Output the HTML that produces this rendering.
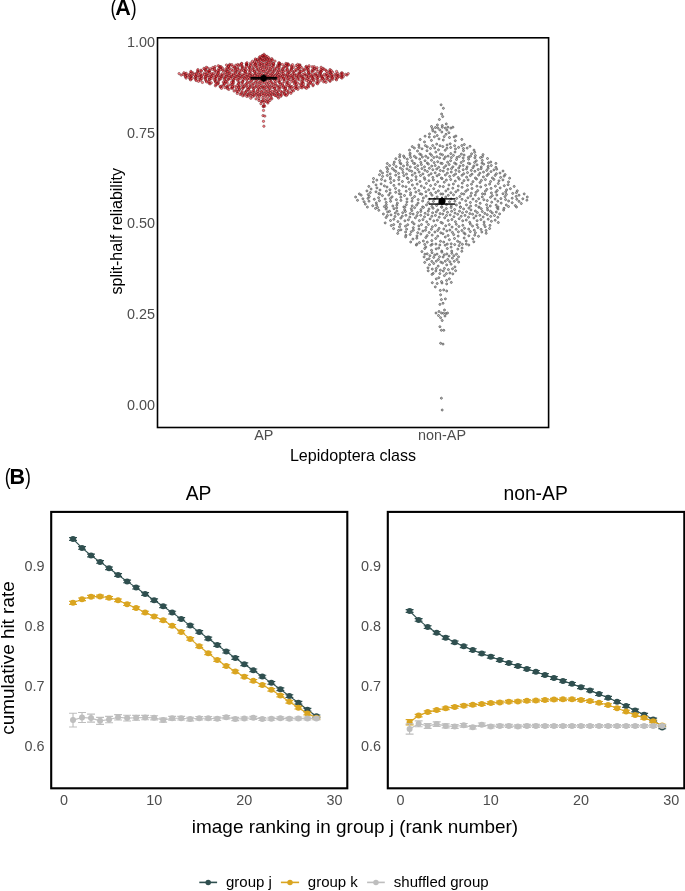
<!DOCTYPE html>
<html><head><meta charset="utf-8"><title>figure</title>
<style>html,body{margin:0;padding:0;background:#fff;}body{width:685px;height:891px;overflow:hidden;font-family:"Liberation Sans", sans-serif;}svg{display:block;will-change:transform;}</style>
</head><body>
<svg width="685" height="891" viewBox="0 0 685 891" font-family='"Liberation Sans", sans-serif'><g fill="#ff2030" stroke="#3a0000" stroke-width="0.55" fill-opacity="0.55" stroke-opacity="0.7"><circle cx="279.4" cy="64.2" r="1.2"/><circle cx="215.1" cy="70.8" r="1.2"/><circle cx="254.9" cy="74.0" r="1.2"/><circle cx="250.2" cy="70.9" r="1.2"/><circle cx="271.8" cy="58.7" r="1.2"/><circle cx="237.8" cy="64.5" r="1.2"/><circle cx="265.3" cy="85.8" r="1.2"/><circle cx="243.9" cy="70.5" r="1.2"/><circle cx="285.0" cy="94.9" r="1.2"/><circle cx="343.3" cy="76.6" r="1.2"/><circle cx="257.0" cy="70.1" r="1.2"/><circle cx="256.2" cy="92.8" r="1.2"/><circle cx="277.8" cy="65.2" r="1.2"/><circle cx="226.5" cy="65.0" r="1.2"/><circle cx="269.9" cy="70.2" r="1.2"/><circle cx="321.1" cy="74.7" r="1.2"/><circle cx="301.7" cy="81.4" r="1.2"/><circle cx="215.4" cy="85.8" r="1.2"/><circle cx="293.0" cy="80.3" r="1.2"/><circle cx="259.8" cy="94.9" r="1.2"/><circle cx="280.4" cy="75.9" r="1.2"/><circle cx="273.5" cy="77.7" r="1.2"/><circle cx="263.1" cy="82.3" r="1.2"/><circle cx="285.9" cy="75.2" r="1.2"/><circle cx="328.9" cy="76.1" r="1.2"/><circle cx="256.1" cy="66.8" r="1.2"/><circle cx="224.4" cy="79.8" r="1.2"/><circle cx="215.1" cy="66.6" r="1.2"/><circle cx="239.3" cy="89.7" r="1.2"/><circle cx="239.2" cy="75.9" r="1.2"/><circle cx="322.6" cy="77.9" r="1.2"/><circle cx="215.9" cy="84.6" r="1.2"/><circle cx="321.5" cy="75.9" r="1.2"/><circle cx="315.7" cy="74.8" r="1.2"/><circle cx="328.2" cy="77.4" r="1.2"/><circle cx="321.1" cy="67.3" r="1.2"/><circle cx="228.8" cy="69.5" r="1.2"/><circle cx="261.6" cy="73.5" r="1.2"/><circle cx="335.1" cy="74.2" r="1.2"/><circle cx="226.6" cy="76.1" r="1.2"/><circle cx="319.5" cy="73.9" r="1.2"/><circle cx="278.7" cy="81.0" r="1.2"/><circle cx="280.5" cy="79.8" r="1.2"/><circle cx="250.9" cy="95.2" r="1.2"/><circle cx="265.6" cy="100.6" r="1.2"/><circle cx="321.0" cy="80.2" r="1.2"/><circle cx="255.4" cy="60.0" r="1.2"/><circle cx="246.8" cy="96.4" r="1.2"/><circle cx="292.4" cy="74.1" r="1.2"/><circle cx="218.3" cy="82.6" r="1.2"/><circle cx="279.2" cy="69.4" r="1.2"/><circle cx="228.7" cy="75.6" r="1.2"/><circle cx="205.5" cy="79.7" r="1.2"/><circle cx="209.3" cy="79.1" r="1.2"/><circle cx="262.4" cy="76.6" r="1.2"/><circle cx="236.9" cy="76.2" r="1.2"/><circle cx="297.7" cy="66.7" r="1.2"/><circle cx="254.5" cy="78.6" r="1.2"/><circle cx="201.1" cy="77.0" r="1.2"/><circle cx="253.7" cy="83.5" r="1.2"/><circle cx="304.5" cy="70.3" r="1.2"/><circle cx="244.1" cy="73.7" r="1.2"/><circle cx="277.7" cy="85.9" r="1.2"/><circle cx="257.7" cy="60.5" r="1.2"/><circle cx="246.4" cy="90.7" r="1.2"/><circle cx="313.0" cy="85.7" r="1.2"/><circle cx="278.9" cy="74.6" r="1.2"/><circle cx="263.3" cy="106.6" r="1.2"/><circle cx="273.6" cy="74.8" r="1.2"/><circle cx="199.9" cy="74.9" r="1.2"/><circle cx="211.3" cy="82.8" r="1.2"/><circle cx="208.1" cy="75.7" r="1.2"/><circle cx="242.2" cy="67.6" r="1.2"/><circle cx="274.1" cy="92.4" r="1.2"/><circle cx="190.9" cy="77.0" r="1.2"/><circle cx="185.2" cy="74.0" r="1.2"/><circle cx="239.0" cy="72.6" r="1.2"/><circle cx="246.9" cy="64.5" r="1.2"/><circle cx="263.4" cy="106.2" r="1.2"/><circle cx="288.0" cy="76.1" r="1.2"/><circle cx="249.3" cy="93.1" r="1.2"/><circle cx="185.5" cy="76.0" r="1.2"/><circle cx="318.6" cy="76.2" r="1.2"/><circle cx="210.2" cy="68.8" r="1.2"/><circle cx="302.6" cy="80.0" r="1.2"/><circle cx="321.2" cy="77.1" r="1.2"/><circle cx="247.3" cy="82.2" r="1.2"/><circle cx="281.5" cy="71.3" r="1.2"/><circle cx="281.7" cy="74.2" r="1.2"/><circle cx="261.8" cy="65.8" r="1.2"/><circle cx="263.3" cy="93.2" r="1.2"/><circle cx="274.6" cy="88.0" r="1.2"/><circle cx="247.1" cy="94.7" r="1.2"/><circle cx="215.9" cy="78.5" r="1.2"/><circle cx="219.7" cy="66.5" r="1.2"/><circle cx="277.2" cy="93.2" r="1.2"/><circle cx="282.6" cy="69.8" r="1.2"/><circle cx="252.2" cy="76.4" r="1.2"/><circle cx="268.3" cy="83.2" r="1.2"/><circle cx="299.5" cy="69.7" r="1.2"/><circle cx="239.0" cy="77.6" r="1.2"/><circle cx="252.5" cy="96.6" r="1.2"/><circle cx="279.5" cy="64.9" r="1.2"/><circle cx="273.8" cy="64.6" r="1.2"/><circle cx="234.1" cy="77.7" r="1.2"/><circle cx="223.7" cy="70.9" r="1.2"/><circle cx="257.7" cy="74.8" r="1.2"/><circle cx="317.1" cy="67.8" r="1.2"/><circle cx="280.8" cy="96.3" r="1.2"/><circle cx="226.4" cy="70.6" r="1.2"/><circle cx="324.4" cy="74.3" r="1.2"/><circle cx="194.7" cy="77.7" r="1.2"/><circle cx="274.2" cy="70.1" r="1.2"/><circle cx="272.6" cy="76.3" r="1.2"/><circle cx="279.9" cy="63.6" r="1.2"/><circle cx="229.8" cy="64.4" r="1.2"/><circle cx="283.2" cy="87.5" r="1.2"/><circle cx="269.4" cy="88.7" r="1.2"/><circle cx="331.9" cy="75.8" r="1.2"/><circle cx="308.6" cy="86.9" r="1.2"/><circle cx="196.0" cy="76.2" r="1.2"/><circle cx="263.2" cy="56.1" r="1.2"/><circle cx="233.1" cy="80.5" r="1.2"/><circle cx="248.8" cy="88.7" r="1.2"/><circle cx="221.5" cy="88.3" r="1.2"/><circle cx="307.9" cy="84.1" r="1.2"/><circle cx="286.4" cy="76.8" r="1.2"/><circle cx="246.7" cy="64.2" r="1.2"/><circle cx="300.5" cy="84.2" r="1.2"/><circle cx="297.4" cy="86.7" r="1.2"/><circle cx="277.2" cy="66.9" r="1.2"/><circle cx="283.3" cy="77.9" r="1.2"/><circle cx="305.4" cy="87.5" r="1.2"/><circle cx="305.1" cy="74.9" r="1.2"/><circle cx="245.7" cy="69.5" r="1.2"/><circle cx="232.6" cy="88.5" r="1.2"/><circle cx="218.0" cy="83.6" r="1.2"/><circle cx="253.5" cy="66.2" r="1.2"/><circle cx="268.9" cy="91.4" r="1.2"/><circle cx="249.6" cy="74.2" r="1.2"/><circle cx="257.1" cy="83.0" r="1.2"/><circle cx="325.8" cy="70.1" r="1.2"/><circle cx="248.1" cy="94.1" r="1.2"/><circle cx="242.5" cy="66.6" r="1.2"/><circle cx="267.5" cy="76.1" r="1.2"/><circle cx="234.9" cy="68.5" r="1.2"/><circle cx="249.3" cy="82.7" r="1.2"/><circle cx="264.5" cy="67.3" r="1.2"/><circle cx="267.0" cy="91.8" r="1.2"/><circle cx="311.6" cy="80.3" r="1.2"/><circle cx="291.2" cy="69.1" r="1.2"/><circle cx="315.8" cy="73.4" r="1.2"/><circle cx="257.2" cy="59.5" r="1.2"/><circle cx="335.9" cy="78.9" r="1.2"/><circle cx="314.6" cy="68.7" r="1.2"/><circle cx="268.3" cy="68.0" r="1.2"/><circle cx="259.6" cy="65.0" r="1.2"/><circle cx="303.0" cy="82.0" r="1.2"/><circle cx="255.2" cy="82.1" r="1.2"/><circle cx="307.9" cy="71.1" r="1.2"/><circle cx="220.4" cy="67.5" r="1.2"/><circle cx="218.3" cy="65.8" r="1.2"/><circle cx="189.2" cy="74.8" r="1.2"/><circle cx="207.5" cy="67.9" r="1.2"/><circle cx="239.0" cy="74.2" r="1.2"/><circle cx="262.2" cy="90.8" r="1.2"/><circle cx="257.5" cy="96.6" r="1.2"/><circle cx="302.9" cy="76.6" r="1.2"/><circle cx="190.0" cy="78.9" r="1.2"/><circle cx="264.6" cy="106.3" r="1.2"/><circle cx="290.1" cy="79.5" r="1.2"/><circle cx="213.4" cy="73.2" r="1.2"/><circle cx="267.7" cy="96.4" r="1.2"/><circle cx="244.3" cy="86.4" r="1.2"/><circle cx="345.5" cy="74.4" r="1.2"/><circle cx="268.2" cy="101.4" r="1.2"/><circle cx="247.1" cy="76.1" r="1.2"/><circle cx="302.0" cy="83.0" r="1.2"/><circle cx="198.0" cy="75.8" r="1.2"/><circle cx="274.4" cy="94.2" r="1.2"/><circle cx="261.3" cy="94.3" r="1.2"/><circle cx="291.8" cy="68.3" r="1.2"/><circle cx="285.4" cy="70.8" r="1.2"/><circle cx="278.9" cy="94.6" r="1.2"/><circle cx="287.3" cy="70.3" r="1.2"/><circle cx="272.5" cy="94.7" r="1.2"/><circle cx="266.0" cy="60.1" r="1.2"/><circle cx="250.3" cy="64.7" r="1.2"/><circle cx="293.6" cy="67.4" r="1.2"/><circle cx="287.9" cy="63.8" r="1.2"/><circle cx="288.1" cy="80.7" r="1.2"/><circle cx="279.1" cy="66.2" r="1.2"/><circle cx="249.5" cy="75.8" r="1.2"/><circle cx="296.1" cy="88.1" r="1.2"/><circle cx="263.7" cy="78.0" r="1.2"/><circle cx="208.7" cy="71.5" r="1.2"/><circle cx="196.4" cy="73.4" r="1.2"/><circle cx="261.3" cy="91.6" r="1.2"/><circle cx="264.9" cy="57.7" r="1.2"/><circle cx="250.8" cy="73.4" r="1.2"/><circle cx="311.2" cy="83.6" r="1.2"/><circle cx="259.4" cy="84.4" r="1.2"/><circle cx="284.0" cy="91.6" r="1.2"/><circle cx="259.4" cy="89.2" r="1.2"/><circle cx="270.7" cy="69.2" r="1.2"/><circle cx="261.2" cy="101.6" r="1.2"/><circle cx="310.5" cy="82.2" r="1.2"/><circle cx="258.8" cy="77.7" r="1.2"/><circle cx="222.6" cy="70.1" r="1.2"/><circle cx="259.2" cy="72.7" r="1.2"/><circle cx="235.3" cy="67.4" r="1.2"/><circle cx="231.2" cy="88.0" r="1.2"/><circle cx="330.5" cy="73.7" r="1.2"/><circle cx="264.4" cy="61.2" r="1.2"/><circle cx="287.0" cy="83.0" r="1.2"/><circle cx="233.7" cy="75.3" r="1.2"/><circle cx="267.9" cy="93.9" r="1.2"/><circle cx="264.3" cy="71.4" r="1.2"/><circle cx="252.4" cy="79.5" r="1.2"/><circle cx="288.3" cy="92.6" r="1.2"/><circle cx="226.9" cy="71.4" r="1.2"/><circle cx="256.2" cy="76.9" r="1.2"/><circle cx="234.1" cy="91.0" r="1.2"/><circle cx="307.4" cy="78.7" r="1.2"/><circle cx="291.4" cy="91.7" r="1.2"/><circle cx="341.9" cy="78.1" r="1.2"/><circle cx="288.0" cy="91.4" r="1.2"/><circle cx="257.5" cy="91.3" r="1.2"/><circle cx="212.3" cy="69.4" r="1.2"/><circle cx="198.5" cy="81.3" r="1.2"/><circle cx="253.0" cy="68.1" r="1.2"/><circle cx="300.3" cy="87.3" r="1.2"/><circle cx="252.5" cy="74.9" r="1.2"/><circle cx="326.1" cy="74.9" r="1.2"/><circle cx="299.2" cy="73.2" r="1.2"/><circle cx="239.2" cy="82.0" r="1.2"/><circle cx="242.9" cy="84.8" r="1.2"/><circle cx="267.1" cy="58.3" r="1.2"/><circle cx="252.6" cy="70.4" r="1.2"/><circle cx="218.7" cy="75.9" r="1.2"/><circle cx="275.4" cy="75.3" r="1.2"/><circle cx="259.9" cy="59.0" r="1.2"/><circle cx="314.4" cy="68.1" r="1.2"/><circle cx="245.7" cy="84.2" r="1.2"/><circle cx="249.9" cy="85.2" r="1.2"/><circle cx="320.3" cy="72.6" r="1.2"/><circle cx="228.8" cy="89.4" r="1.2"/><circle cx="320.7" cy="70.9" r="1.2"/><circle cx="251.2" cy="77.0" r="1.2"/><circle cx="220.4" cy="86.4" r="1.2"/><circle cx="201.4" cy="71.0" r="1.2"/><circle cx="202.4" cy="82.4" r="1.2"/><circle cx="329.8" cy="71.0" r="1.2"/><circle cx="281.8" cy="92.0" r="1.2"/><circle cx="259.0" cy="81.9" r="1.2"/><circle cx="260.6" cy="68.3" r="1.2"/><circle cx="220.3" cy="86.9" r="1.2"/><circle cx="204.8" cy="77.9" r="1.2"/><circle cx="336.5" cy="79.9" r="1.2"/><circle cx="333.6" cy="76.4" r="1.2"/><circle cx="273.2" cy="84.1" r="1.2"/><circle cx="206.1" cy="76.1" r="1.2"/><circle cx="287.4" cy="94.3" r="1.2"/><circle cx="212.9" cy="75.4" r="1.2"/><circle cx="266.5" cy="79.0" r="1.2"/><circle cx="311.5" cy="75.7" r="1.2"/><circle cx="302.4" cy="85.9" r="1.2"/><circle cx="241.4" cy="70.9" r="1.2"/><circle cx="271.8" cy="98.8" r="1.2"/><circle cx="250.5" cy="86.7" r="1.2"/><circle cx="280.6" cy="91.2" r="1.2"/><circle cx="239.9" cy="73.5" r="1.2"/><circle cx="258.9" cy="100.5" r="1.2"/><circle cx="331.8" cy="74.6" r="1.2"/><circle cx="301.7" cy="67.7" r="1.2"/><circle cx="272.9" cy="65.4" r="1.2"/><circle cx="224.5" cy="78.0" r="1.2"/><circle cx="226.8" cy="86.6" r="1.2"/><circle cx="276.3" cy="76.8" r="1.2"/><circle cx="247.5" cy="79.1" r="1.2"/><circle cx="300.9" cy="76.0" r="1.2"/><circle cx="268.7" cy="57.8" r="1.2"/><circle cx="233.0" cy="81.4" r="1.2"/><circle cx="279.2" cy="62.8" r="1.2"/><circle cx="288.2" cy="78.7" r="1.2"/><circle cx="292.6" cy="89.9" r="1.2"/><circle cx="259.7" cy="92.5" r="1.2"/><circle cx="270.6" cy="64.0" r="1.2"/><circle cx="209.3" cy="71.3" r="1.2"/><circle cx="278.6" cy="77.4" r="1.2"/><circle cx="298.2" cy="77.7" r="1.2"/><circle cx="326.6" cy="71.3" r="1.2"/><circle cx="234.4" cy="67.1" r="1.2"/><circle cx="258.3" cy="61.5" r="1.2"/><circle cx="302.8" cy="78.0" r="1.2"/><circle cx="314.2" cy="66.6" r="1.2"/><circle cx="316.7" cy="69.8" r="1.2"/><circle cx="197.7" cy="71.8" r="1.2"/><circle cx="222.4" cy="73.6" r="1.2"/><circle cx="257.1" cy="79.4" r="1.2"/><circle cx="283.9" cy="80.0" r="1.2"/><circle cx="232.8" cy="66.5" r="1.2"/><circle cx="297.7" cy="83.2" r="1.2"/><circle cx="305.0" cy="73.5" r="1.2"/><circle cx="282.6" cy="83.5" r="1.2"/><circle cx="312.1" cy="66.8" r="1.2"/><circle cx="259.2" cy="86.3" r="1.2"/><circle cx="260.9" cy="103.7" r="1.2"/><circle cx="245.3" cy="71.3" r="1.2"/><circle cx="215.5" cy="74.8" r="1.2"/><circle cx="289.1" cy="72.3" r="1.2"/><circle cx="273.8" cy="71.9" r="1.2"/><circle cx="302.9" cy="74.3" r="1.2"/><circle cx="266.2" cy="94.4" r="1.2"/><circle cx="322.1" cy="70.4" r="1.2"/><circle cx="303.6" cy="83.8" r="1.2"/><circle cx="270.0" cy="66.6" r="1.2"/><circle cx="267.9" cy="103.0" r="1.2"/><circle cx="254.6" cy="75.4" r="1.2"/><circle cx="242.8" cy="95.9" r="1.2"/><circle cx="268.5" cy="99.0" r="1.2"/><circle cx="258.4" cy="69.1" r="1.2"/><circle cx="331.3" cy="77.0" r="1.2"/><circle cx="253.3" cy="94.5" r="1.2"/><circle cx="346.9" cy="75.1" r="1.2"/><circle cx="296.0" cy="84.8" r="1.2"/><circle cx="271.3" cy="93.8" r="1.2"/><circle cx="219.0" cy="71.1" r="1.2"/><circle cx="257.3" cy="76.3" r="1.2"/><circle cx="222.0" cy="85.9" r="1.2"/><circle cx="233.5" cy="79.5" r="1.2"/><circle cx="219.0" cy="80.3" r="1.2"/><circle cx="289.6" cy="87.0" r="1.2"/><circle cx="223.8" cy="85.1" r="1.2"/><circle cx="232.5" cy="87.2" r="1.2"/><circle cx="252.9" cy="88.1" r="1.2"/><circle cx="210.4" cy="74.8" r="1.2"/><circle cx="330.1" cy="81.3" r="1.2"/><circle cx="299.2" cy="79.9" r="1.2"/><circle cx="312.5" cy="78.5" r="1.2"/><circle cx="275.9" cy="85.1" r="1.2"/><circle cx="233.4" cy="73.9" r="1.2"/><circle cx="289.5" cy="74.6" r="1.2"/><circle cx="271.4" cy="86.0" r="1.2"/><circle cx="228.3" cy="79.0" r="1.2"/><circle cx="231.1" cy="77.0" r="1.2"/><circle cx="275.5" cy="81.7" r="1.2"/><circle cx="313.6" cy="70.5" r="1.2"/><circle cx="181.2" cy="75.1" r="1.2"/><circle cx="214.9" cy="80.7" r="1.2"/><circle cx="276.7" cy="70.9" r="1.2"/><circle cx="221.9" cy="76.6" r="1.2"/><circle cx="225.8" cy="76.7" r="1.2"/><circle cx="281.1" cy="94.0" r="1.2"/><circle cx="263.0" cy="64.3" r="1.2"/><circle cx="206.8" cy="74.1" r="1.2"/><circle cx="263.7" cy="88.3" r="1.2"/><circle cx="258.3" cy="87.9" r="1.2"/><circle cx="186.1" cy="78.1" r="1.2"/><circle cx="303.8" cy="86.5" r="1.2"/><circle cx="292.9" cy="76.4" r="1.2"/><circle cx="291.2" cy="77.0" r="1.2"/><circle cx="264.6" cy="59.0" r="1.2"/><circle cx="219.2" cy="79.4" r="1.2"/><circle cx="272.4" cy="73.3" r="1.2"/><circle cx="321.2" cy="71.8" r="1.2"/><circle cx="265.0" cy="75.1" r="1.2"/><circle cx="233.6" cy="82.5" r="1.2"/><circle cx="278.5" cy="78.8" r="1.2"/><circle cx="237.5" cy="80.3" r="1.2"/><circle cx="243.0" cy="81.1" r="1.2"/><circle cx="341.9" cy="76.0" r="1.2"/><circle cx="308.6" cy="67.5" r="1.2"/><circle cx="269.4" cy="59.3" r="1.2"/><circle cx="298.1" cy="76.2" r="1.2"/><circle cx="268.7" cy="77.3" r="1.2"/><circle cx="262.4" cy="101.0" r="1.2"/><circle cx="267.2" cy="65.1" r="1.2"/><circle cx="264.6" cy="82.5" r="1.2"/><circle cx="276.5" cy="73.8" r="1.2"/><circle cx="304.7" cy="79.0" r="1.2"/><circle cx="248.8" cy="77.4" r="1.2"/><circle cx="227.3" cy="87.4" r="1.2"/><circle cx="272.3" cy="71.1" r="1.2"/><circle cx="242.0" cy="82.9" r="1.2"/><circle cx="309.1" cy="65.8" r="1.2"/><circle cx="297.7" cy="64.4" r="1.2"/><circle cx="279.2" cy="67.5" r="1.2"/><circle cx="224.1" cy="83.2" r="1.2"/><circle cx="312.8" cy="69.5" r="1.2"/><circle cx="303.1" cy="78.2" r="1.2"/><circle cx="254.1" cy="95.9" r="1.2"/><circle cx="297.7" cy="78.9" r="1.2"/><circle cx="259.6" cy="63.7" r="1.2"/><circle cx="206.3" cy="80.9" r="1.2"/><circle cx="254.7" cy="72.0" r="1.2"/><circle cx="260.3" cy="74.4" r="1.2"/><circle cx="190.6" cy="79.9" r="1.2"/><circle cx="262.0" cy="55.8" r="1.2"/><circle cx="230.5" cy="78.7" r="1.2"/><circle cx="269.5" cy="84.7" r="1.2"/><circle cx="273.4" cy="63.2" r="1.2"/><circle cx="316.9" cy="78.8" r="1.2"/><circle cx="261.8" cy="63.2" r="1.2"/><circle cx="230.0" cy="72.2" r="1.2"/><circle cx="302.0" cy="87.9" r="1.2"/><circle cx="207.4" cy="73.4" r="1.2"/><circle cx="320.1" cy="73.1" r="1.2"/><circle cx="294.6" cy="82.3" r="1.2"/><circle cx="253.8" cy="91.5" r="1.2"/><circle cx="289.3" cy="83.8" r="1.2"/><circle cx="278.0" cy="93.7" r="1.2"/><circle cx="261.0" cy="83.8" r="1.2"/><circle cx="231.8" cy="76.3" r="1.2"/><circle cx="317.1" cy="81.7" r="1.2"/><circle cx="253.7" cy="88.6" r="1.2"/><circle cx="259.3" cy="57.8" r="1.2"/><circle cx="243.6" cy="87.0" r="1.2"/><circle cx="255.5" cy="64.0" r="1.2"/><circle cx="196.2" cy="74.2" r="1.2"/><circle cx="236.4" cy="87.8" r="1.2"/><circle cx="287.9" cy="72.9" r="1.2"/><circle cx="191.9" cy="78.6" r="1.2"/><circle cx="243.0" cy="88.4" r="1.2"/><circle cx="242.2" cy="69.0" r="1.2"/><circle cx="284.0" cy="74.9" r="1.2"/><circle cx="290.2" cy="71.2" r="1.2"/><circle cx="229.7" cy="65.3" r="1.2"/><circle cx="205.6" cy="70.0" r="1.2"/><circle cx="269.9" cy="80.5" r="1.2"/><circle cx="337.7" cy="75.4" r="1.2"/><circle cx="179.1" cy="73.6" r="1.2"/><circle cx="286.5" cy="90.5" r="1.2"/><circle cx="208.9" cy="83.1" r="1.2"/><circle cx="271.1" cy="97.7" r="1.2"/><circle cx="308.9" cy="73.7" r="1.2"/><circle cx="261.0" cy="87.5" r="1.2"/><circle cx="284.3" cy="93.0" r="1.2"/><circle cx="282.4" cy="68.6" r="1.2"/><circle cx="323.6" cy="79.1" r="1.2"/><circle cx="193.1" cy="73.0" r="1.2"/><circle cx="201.5" cy="76.4" r="1.2"/><circle cx="296.3" cy="76.9" r="1.2"/><circle cx="237.8" cy="68.0" r="1.2"/><circle cx="221.0" cy="74.9" r="1.2"/><circle cx="297.9" cy="74.0" r="1.2"/><circle cx="241.8" cy="92.6" r="1.2"/><circle cx="266.3" cy="66.0" r="1.2"/><circle cx="276.0" cy="79.2" r="1.2"/><circle cx="271.9" cy="67.6" r="1.2"/><circle cx="263.0" cy="75.0" r="1.2"/><circle cx="187.1" cy="75.5" r="1.2"/><circle cx="318.7" cy="82.1" r="1.2"/><circle cx="227.2" cy="83.0" r="1.2"/><circle cx="269.0" cy="60.7" r="1.2"/><circle cx="282.4" cy="64.5" r="1.2"/><circle cx="246.4" cy="65.1" r="1.2"/><circle cx="306.8" cy="75.1" r="1.2"/><circle cx="285.6" cy="79.1" r="1.2"/><circle cx="254.4" cy="71.2" r="1.2"/><circle cx="263.3" cy="60.9" r="1.2"/><circle cx="276.3" cy="95.9" r="1.2"/><circle cx="240.4" cy="85.8" r="1.2"/><circle cx="294.6" cy="74.9" r="1.2"/><circle cx="289.6" cy="88.9" r="1.2"/><circle cx="257.9" cy="93.8" r="1.2"/><circle cx="266.4" cy="68.4" r="1.2"/><circle cx="238.9" cy="86.8" r="1.2"/><circle cx="326.8" cy="73.5" r="1.2"/><circle cx="254.1" cy="69.4" r="1.2"/><circle cx="257.6" cy="89.9" r="1.2"/><circle cx="262.3" cy="86.8" r="1.2"/><circle cx="276.1" cy="68.2" r="1.2"/><circle cx="307.5" cy="86.3" r="1.2"/><circle cx="211.9" cy="73.9" r="1.2"/><circle cx="272.8" cy="91.3" r="1.2"/><circle cx="298.1" cy="68.5" r="1.2"/><circle cx="287.5" cy="69.4" r="1.2"/><circle cx="201.0" cy="70.2" r="1.2"/><circle cx="250.5" cy="81.6" r="1.2"/><circle cx="291.8" cy="67.1" r="1.2"/><circle cx="247.2" cy="87.7" r="1.2"/><circle cx="219.3" cy="77.7" r="1.2"/><circle cx="236.6" cy="74.7" r="1.2"/><circle cx="242.5" cy="81.7" r="1.2"/><circle cx="290.1" cy="85.9" r="1.2"/><circle cx="241.2" cy="93.9" r="1.2"/><circle cx="244.1" cy="77.9" r="1.2"/><circle cx="200.8" cy="73.7" r="1.2"/><circle cx="284.6" cy="93.9" r="1.2"/><circle cx="197.7" cy="70.7" r="1.2"/><circle cx="262.8" cy="97.9" r="1.2"/><circle cx="236.0" cy="76.8" r="1.2"/><circle cx="330.2" cy="73.0" r="1.2"/><circle cx="248.6" cy="69.8" r="1.2"/><circle cx="225.8" cy="74.5" r="1.2"/><circle cx="264.0" cy="54.3" r="1.2"/><circle cx="268.2" cy="86.4" r="1.2"/><circle cx="205.8" cy="78.2" r="1.2"/><circle cx="245.4" cy="71.7" r="1.2"/><circle cx="227.2" cy="67.7" r="1.2"/><circle cx="326.0" cy="82.3" r="1.2"/><circle cx="211.1" cy="77.0" r="1.2"/><circle cx="272.1" cy="87.4" r="1.2"/><circle cx="296.2" cy="75.4" r="1.2"/><circle cx="318.0" cy="71.4" r="1.2"/><circle cx="259.0" cy="71.0" r="1.2"/><circle cx="275.0" cy="61.1" r="1.2"/><circle cx="300.0" cy="65.0" r="1.2"/><circle cx="267.1" cy="56.4" r="1.2"/><circle cx="282.7" cy="76.5" r="1.2"/><circle cx="267.2" cy="59.7" r="1.2"/><circle cx="191.1" cy="76.3" r="1.2"/><circle cx="299.3" cy="65.2" r="1.2"/><circle cx="296.3" cy="70.7" r="1.2"/><circle cx="256.1" cy="80.4" r="1.2"/><circle cx="269.0" cy="78.6" r="1.2"/><circle cx="260.9" cy="81.2" r="1.2"/><circle cx="336.7" cy="74.9" r="1.2"/><circle cx="313.3" cy="76.3" r="1.2"/><circle cx="322.4" cy="78.3" r="1.2"/><circle cx="204.4" cy="72.9" r="1.2"/><circle cx="312.9" cy="77.8" r="1.2"/><circle cx="275.2" cy="89.9" r="1.2"/><circle cx="259.8" cy="96.2" r="1.2"/><circle cx="250.5" cy="68.7" r="1.2"/><circle cx="221.2" cy="77.1" r="1.2"/><circle cx="329.8" cy="80.4" r="1.2"/><circle cx="215.9" cy="76.9" r="1.2"/><circle cx="186.2" cy="73.3" r="1.2"/><circle cx="234.6" cy="86.1" r="1.2"/><circle cx="250.8" cy="98.2" r="1.2"/><circle cx="251.6" cy="80.8" r="1.2"/><circle cx="231.7" cy="69.7" r="1.2"/><circle cx="195.7" cy="76.8" r="1.2"/><circle cx="264.0" cy="105.1" r="1.2"/><circle cx="255.3" cy="87.3" r="1.2"/><circle cx="241.7" cy="63.4" r="1.2"/><circle cx="296.0" cy="69.5" r="1.2"/><circle cx="267.2" cy="62.8" r="1.2"/><circle cx="228.2" cy="74.1" r="1.2"/><circle cx="291.2" cy="66.0" r="1.2"/><circle cx="278.7" cy="70.5" r="1.2"/><circle cx="246.3" cy="63.6" r="1.2"/><circle cx="327.7" cy="79.6" r="1.2"/><circle cx="308.6" cy="72.9" r="1.2"/><circle cx="307.2" cy="68.3" r="1.2"/><circle cx="291.8" cy="81.8" r="1.2"/><circle cx="255.3" cy="64.6" r="1.2"/><circle cx="286.4" cy="64.1" r="1.2"/><circle cx="270.2" cy="75.5" r="1.2"/><circle cx="183.9" cy="72.8" r="1.2"/><circle cx="293.2" cy="72.0" r="1.2"/><circle cx="266.3" cy="63.4" r="1.2"/><circle cx="278.6" cy="98.0" r="1.2"/><circle cx="283.1" cy="71.7" r="1.2"/><circle cx="218.9" cy="68.6" r="1.2"/><circle cx="280.3" cy="84.0" r="1.2"/><circle cx="262.9" cy="85.7" r="1.2"/><circle cx="183.2" cy="74.4" r="1.2"/><circle cx="308.5" cy="77.3" r="1.2"/><circle cx="297.9" cy="89.3" r="1.2"/><circle cx="244.1" cy="75.3" r="1.2"/><circle cx="238.6" cy="65.7" r="1.2"/><circle cx="300.2" cy="66.5" r="1.2"/><circle cx="217.7" cy="74.3" r="1.2"/><circle cx="218.5" cy="72.6" r="1.2"/><circle cx="296.1" cy="65.6" r="1.2"/><circle cx="205.6" cy="76.7" r="1.2"/><circle cx="298.8" cy="68.0" r="1.2"/><circle cx="241.8" cy="66.0" r="1.2"/><circle cx="301.1" cy="77.2" r="1.2"/><circle cx="216.4" cy="71.9" r="1.2"/><circle cx="246.3" cy="66.5" r="1.2"/><circle cx="225.7" cy="81.2" r="1.2"/><circle cx="280.1" cy="86.5" r="1.2"/><circle cx="326.6" cy="78.7" r="1.2"/><circle cx="227.6" cy="71.5" r="1.2"/><circle cx="214.4" cy="68.2" r="1.2"/><circle cx="308.7" cy="72.2" r="1.2"/><circle cx="341.7" cy="72.8" r="1.2"/><circle cx="277.6" cy="73.1" r="1.2"/><circle cx="232.4" cy="86.5" r="1.2"/><circle cx="262.8" cy="55.6" r="1.2"/><circle cx="266.9" cy="72.9" r="1.2"/><circle cx="294.2" cy="73.4" r="1.2"/><circle cx="210.0" cy="83.9" r="1.2"/><circle cx="313.9" cy="74.1" r="1.2"/><circle cx="266.3" cy="83.9" r="1.2"/><circle cx="293.1" cy="78.6" r="1.2"/><circle cx="265.6" cy="69.7" r="1.2"/><circle cx="285.9" cy="63.4" r="1.2"/><circle cx="266.5" cy="89.5" r="1.2"/><circle cx="229.4" cy="68.3" r="1.2"/><circle cx="255.4" cy="58.9" r="1.2"/><circle cx="264.5" cy="64.4" r="1.2"/><circle cx="204.7" cy="74.5" r="1.2"/><circle cx="225.3" cy="72.9" r="1.2"/><circle cx="287.0" cy="82.1" r="1.2"/><circle cx="228.0" cy="85.9" r="1.2"/><circle cx="277.9" cy="90.8" r="1.2"/><circle cx="259.0" cy="98.8" r="1.2"/><circle cx="279.0" cy="89.1" r="1.2"/><circle cx="185.4" cy="76.7" r="1.2"/><circle cx="225.8" cy="69.0" r="1.2"/><circle cx="238.8" cy="83.2" r="1.2"/><circle cx="225.2" cy="78.2" r="1.2"/><circle cx="287.3" cy="73.7" r="1.2"/><circle cx="283.4" cy="86.2" r="1.2"/><circle cx="253.9" cy="90.4" r="1.2"/><circle cx="209.4" cy="80.0" r="1.2"/><circle cx="264.2" cy="88.3" r="1.2"/><circle cx="299.9" cy="74.8" r="1.2"/><circle cx="337.7" cy="73.4" r="1.2"/><circle cx="336.5" cy="76.9" r="1.2"/><circle cx="332.6" cy="79.4" r="1.2"/><circle cx="317.1" cy="75.3" r="1.2"/><circle cx="256.4" cy="63.1" r="1.2"/><circle cx="270.4" cy="90.4" r="1.2"/><circle cx="236.8" cy="71.1" r="1.2"/><circle cx="330.0" cy="69.6" r="1.2"/><circle cx="196.2" cy="78.4" r="1.2"/><circle cx="197.9" cy="69.6" r="1.2"/><circle cx="313.3" cy="84.6" r="1.2"/><circle cx="286.7" cy="84.3" r="1.2"/><circle cx="294.4" cy="71.0" r="1.2"/><circle cx="267.4" cy="81.4" r="1.2"/><circle cx="271.0" cy="62.0" r="1.2"/><circle cx="250.7" cy="65.5" r="1.2"/><circle cx="278.7" cy="63.1" r="1.2"/><circle cx="231.4" cy="74.8" r="1.2"/><circle cx="239.4" cy="89.0" r="1.2"/><circle cx="265.2" cy="95.9" r="1.2"/><circle cx="341.0" cy="77.2" r="1.2"/><circle cx="246.2" cy="91.6" r="1.2"/><circle cx="331.6" cy="78.6" r="1.2"/><circle cx="295.5" cy="82.5" r="1.2"/><circle cx="209.0" cy="77.4" r="1.2"/><circle cx="191.2" cy="72.1" r="1.2"/><circle cx="252.1" cy="91.8" r="1.2"/><circle cx="306.6" cy="76.7" r="1.2"/><circle cx="221.0" cy="78.8" r="1.2"/><circle cx="222.4" cy="68.1" r="1.2"/><circle cx="323.0" cy="68.4" r="1.2"/><circle cx="240.2" cy="64.8" r="1.2"/><circle cx="246.0" cy="73.0" r="1.2"/><circle cx="290.9" cy="93.3" r="1.2"/><circle cx="209.9" cy="72.3" r="1.2"/><circle cx="246.8" cy="86.0" r="1.2"/><circle cx="316.5" cy="76.8" r="1.2"/><circle cx="237.2" cy="93.4" r="1.2"/><circle cx="262.0" cy="59.9" r="1.2"/><circle cx="228.9" cy="77.3" r="1.2"/><circle cx="312.0" cy="70.9" r="1.2"/><circle cx="288.1" cy="65.1" r="1.2"/><circle cx="290.8" cy="75.7" r="1.2"/><circle cx="293.2" cy="77.8" r="1.2"/><circle cx="295.8" cy="88.6" r="1.2"/><circle cx="281.2" cy="77.1" r="1.2"/><circle cx="281.3" cy="95.2" r="1.2"/><circle cx="336.6" cy="71.4" r="1.2"/><circle cx="263.1" cy="67.2" r="1.2"/><circle cx="250.7" cy="63.1" r="1.2"/><circle cx="229.2" cy="73.3" r="1.2"/><circle cx="306.4" cy="66.4" r="1.2"/><circle cx="308.6" cy="70.1" r="1.2"/><circle cx="209.1" cy="70.5" r="1.2"/><circle cx="332.5" cy="72.1" r="1.2"/><circle cx="235.1" cy="78.5" r="1.2"/><circle cx="235.4" cy="70.3" r="1.2"/><circle cx="277.7" cy="96.6" r="1.2"/><circle cx="265.3" cy="79.9" r="1.2"/><circle cx="331.3" cy="70.7" r="1.2"/><circle cx="274.6" cy="68.9" r="1.2"/><circle cx="211.5" cy="76.4" r="1.2"/><circle cx="273.9" cy="78.4" r="1.2"/><circle cx="251.0" cy="93.6" r="1.2"/><circle cx="246.1" cy="76.8" r="1.2"/><circle cx="285.3" cy="65.7" r="1.2"/><circle cx="272.1" cy="82.9" r="1.2"/><circle cx="326.7" cy="76.8" r="1.2"/><circle cx="308.5" cy="85.1" r="1.2"/><circle cx="249.3" cy="72.4" r="1.2"/><circle cx="279.0" cy="82.2" r="1.2"/><circle cx="318.0" cy="79.8" r="1.2"/><circle cx="271.0" cy="74.0" r="1.2"/><circle cx="294.5" cy="87.4" r="1.2"/><circle cx="242.1" cy="91.2" r="1.2"/><circle cx="215.6" cy="82.2" r="1.2"/><circle cx="280.0" cy="82.6" r="1.2"/><circle cx="217.8" cy="84.1" r="1.2"/><circle cx="288.1" cy="85.7" r="1.2"/><circle cx="340.8" cy="74.0" r="1.2"/><circle cx="256.8" cy="95.1" r="1.2"/><circle cx="248.7" cy="96.0" r="1.2"/><circle cx="324.1" cy="69.2" r="1.2"/><circle cx="294.9" cy="79.4" r="1.2"/><circle cx="300.0" cy="72.6" r="1.2"/><circle cx="244.7" cy="78.3" r="1.2"/><circle cx="277.9" cy="87.2" r="1.2"/><circle cx="263.0" cy="95.5" r="1.2"/><circle cx="268.3" cy="62.2" r="1.2"/><circle cx="252.3" cy="84.0" r="1.2"/><circle cx="308.4" cy="81.7" r="1.2"/><circle cx="249.7" cy="78.7" r="1.2"/><circle cx="270.6" cy="96.1" r="1.2"/><circle cx="244.2" cy="95.0" r="1.2"/><circle cx="337.7" cy="77.7" r="1.2"/><circle cx="274.8" cy="88.5" r="1.2"/><circle cx="274.6" cy="80.2" r="1.2"/><circle cx="329.3" cy="72.4" r="1.2"/><circle cx="338.9" cy="76.3" r="1.2"/><circle cx="284.8" cy="89.6" r="1.2"/><circle cx="273.5" cy="63.7" r="1.2"/><circle cx="262.4" cy="69.5" r="1.2"/><circle cx="199.0" cy="72.4" r="1.2"/><circle cx="260.2" cy="62.5" r="1.2"/><circle cx="284.2" cy="81.5" r="1.2"/><circle cx="192.0" cy="75.3" r="1.2"/><circle cx="269.2" cy="95.0" r="1.2"/><circle cx="264.2" cy="78.1" r="1.2"/><circle cx="252.5" cy="61.2" r="1.2"/><circle cx="292.5" cy="64.7" r="1.2"/><circle cx="244.4" cy="93.7" r="1.2"/><circle cx="199.9" cy="79.2" r="1.2"/><circle cx="228.0" cy="80.0" r="1.2"/><circle cx="195.7" cy="79.5" r="1.2"/><circle cx="230.0" cy="84.9" r="1.2"/><circle cx="300.0" cy="71.4" r="1.2"/><circle cx="269.3" cy="87.6" r="1.2"/><circle cx="307.1" cy="69.0" r="1.2"/><circle cx="316.7" cy="83.1" r="1.2"/><circle cx="292.0" cy="86.5" r="1.2"/><circle cx="273.2" cy="66.5" r="1.2"/><circle cx="216.5" cy="76.2" r="1.2"/><circle cx="232.7" cy="83.8" r="1.2"/><circle cx="237.5" cy="85.5" r="1.2"/><circle cx="269.9" cy="100.5" r="1.2"/><circle cx="238.0" cy="79.3" r="1.2"/><circle cx="285.6" cy="86.8" r="1.2"/><circle cx="256.3" cy="86.5" r="1.2"/><circle cx="265.7" cy="73.6" r="1.2"/><circle cx="256.0" cy="98.9" r="1.2"/><circle cx="223.1" cy="75.1" r="1.2"/><circle cx="223.3" cy="82.1" r="1.2"/><circle cx="283.3" cy="73.5" r="1.2"/><circle cx="304.0" cy="69.3" r="1.2"/><circle cx="201.7" cy="78.8" r="1.2"/><circle cx="261.8" cy="79.9" r="1.2"/><circle cx="228.4" cy="66.7" r="1.2"/><circle cx="204.7" cy="69.2" r="1.2"/><circle cx="249.8" cy="87.4" r="1.2"/><circle cx="199.2" cy="77.4" r="1.2"/><circle cx="220.8" cy="69.4" r="1.2"/><circle cx="241.6" cy="63.8" r="1.2"/><circle cx="311.3" cy="77.0" r="1.2"/><circle cx="256.3" cy="73.2" r="1.2"/><circle cx="277.7" cy="76.2" r="1.2"/><circle cx="282.5" cy="85.0" r="1.2"/><circle cx="274.9" cy="95.4" r="1.2"/><circle cx="276.4" cy="91.6" r="1.2"/><circle cx="285.3" cy="88.1" r="1.2"/><circle cx="237.0" cy="91.7" r="1.2"/><circle cx="324.4" cy="80.8" r="1.2"/><circle cx="309.0" cy="79.5" r="1.2"/><circle cx="264.8" cy="56.1" r="1.2"/><circle cx="286.4" cy="95.5" r="1.2"/><circle cx="265.6" cy="98.5" r="1.2"/><circle cx="323.7" cy="81.9" r="1.2"/><circle cx="261.2" cy="57.8" r="1.2"/><circle cx="214.7" cy="79.5" r="1.2"/><circle cx="190.9" cy="71.4" r="1.2"/><circle cx="242.1" cy="76.5" r="1.2"/><circle cx="288.7" cy="64.8" r="1.2"/><circle cx="261.3" cy="70.7" r="1.2"/><circle cx="226.0" cy="81.7" r="1.2"/><circle cx="242.2" cy="88.1" r="1.2"/><circle cx="200.4" cy="80.2" r="1.2"/><circle cx="245.1" cy="68.2" r="1.2"/><circle cx="256.7" cy="65.2" r="1.2"/><circle cx="221.1" cy="66.8" r="1.2"/><circle cx="348.2" cy="73.6" r="1.2"/><circle cx="212.8" cy="67.5" r="1.2"/><circle cx="260.6" cy="60.1" r="1.2"/><circle cx="291.2" cy="87.8" r="1.2"/><circle cx="271.2" cy="79.5" r="1.2"/><circle cx="266.6" cy="101.7" r="1.2"/><circle cx="261.2" cy="77.2" r="1.2"/><circle cx="246.7" cy="83.7" r="1.2"/><circle cx="209.1" cy="81.7" r="1.2"/><circle cx="216.2" cy="81.4" r="1.2"/><circle cx="253.4" cy="63.5" r="1.2"/><circle cx="238.4" cy="91.4" r="1.2"/><circle cx="342.4" cy="73.3" r="1.2"/><circle cx="257.0" cy="67.8" r="1.2"/><circle cx="196.2" cy="80.5" r="1.2"/><circle cx="320.9" cy="69.4" r="1.2"/><circle cx="314.0" cy="79.3" r="1.2"/><circle cx="283.6" cy="78.3" r="1.2"/><circle cx="310.3" cy="82.7" r="1.2"/><circle cx="224.4" cy="84.0" r="1.2"/><circle cx="279.4" cy="72.5" r="1.2"/><circle cx="206.6" cy="81.9" r="1.2"/><circle cx="247.0" cy="62.8" r="1.2"/><circle cx="308.5" cy="76.1" r="1.2"/><circle cx="286.8" cy="66.5" r="1.2"/><circle cx="253.9" cy="77.8" r="1.2"/><circle cx="303.0" cy="70.8" r="1.2"/><circle cx="265.3" cy="55.8" r="1.2"/><circle cx="247.1" cy="74.6" r="1.2"/><circle cx="235.6" cy="71.9" r="1.2"/><circle cx="263.0" cy="100.2" r="1.2"/><circle cx="263.4" cy="71.4" r="1.2"/><circle cx="270.4" cy="92.8" r="1.2"/><circle cx="286.9" cy="67.7" r="1.2"/><circle cx="284.0" cy="66.7" r="1.2"/><circle cx="269.2" cy="72.1" r="1.2"/><circle cx="227.5" cy="88.6" r="1.2"/><circle cx="206.2" cy="70.9" r="1.2"/><circle cx="248.1" cy="89.5" r="1.2"/><circle cx="211.3" cy="78.7" r="1.2"/><circle cx="203.9" cy="68.4" r="1.2"/><circle cx="236.1" cy="90.0" r="1.2"/><circle cx="202.3" cy="75.2" r="1.2"/><circle cx="332.5" cy="77.8" r="1.2"/><circle cx="318.0" cy="77.6" r="1.2"/><circle cx="259.8" cy="66.6" r="1.2"/><circle cx="295.9" cy="86.1" r="1.2"/><circle cx="189.0" cy="77.3" r="1.2"/><circle cx="246.7" cy="80.0" r="1.2"/><circle cx="264.0" cy="102.4" r="1.2"/><circle cx="323.2" cy="76.5" r="1.2"/><circle cx="264.6" cy="93.4" r="1.2"/><circle cx="291.4" cy="70.1" r="1.2"/><circle cx="275.3" cy="83.7" r="1.2"/><circle cx="252.9" cy="85.9" r="1.2"/><circle cx="266.6" cy="86.9" r="1.2"/><circle cx="242.0" cy="74.9" r="1.2"/><circle cx="194.2" cy="74.6" r="1.2"/><circle cx="241.2" cy="77.1" r="1.2"/><circle cx="271.2" cy="77.0" r="1.2"/><circle cx="283.7" cy="68.1" r="1.2"/><circle cx="235.2" cy="73.1" r="1.2"/><circle cx="218.0" cy="70.3" r="1.2"/><circle cx="249.7" cy="67.5" r="1.2"/><circle cx="249.7" cy="91.1" r="1.2"/><circle cx="214.5" cy="77.8" r="1.2"/><circle cx="232.7" cy="70.7" r="1.2"/><circle cx="218.2" cy="73.5" r="1.2"/><circle cx="301.3" cy="71.5" r="1.2"/><circle cx="240.2" cy="94.4" r="1.2"/><circle cx="228.5" cy="66.1" r="1.2"/><circle cx="295.9" cy="81.2" r="1.2"/><circle cx="224.9" cy="87.6" r="1.2"/><circle cx="238.6" cy="87.4" r="1.2"/><circle cx="342.1" cy="74.8" r="1.2"/><circle cx="190.2" cy="73.8" r="1.2"/><circle cx="214.6" cy="69.8" r="1.2"/><circle cx="265.1" cy="91.1" r="1.2"/><circle cx="232.0" cy="84.3" r="1.2"/><circle cx="231.9" cy="64.7" r="1.2"/><circle cx="268.3" cy="74.4" r="1.2"/><circle cx="262.9" cy="58.4" r="1.2"/><circle cx="305.9" cy="67.0" r="1.2"/><circle cx="259.8" cy="76.0" r="1.2"/><circle cx="306.5" cy="88.3" r="1.2"/><circle cx="206.3" cy="67.3" r="1.2"/><circle cx="239.8" cy="70.1" r="1.2"/><circle cx="269.3" cy="64.7" r="1.2"/><circle cx="280.1" cy="87.9" r="1.2"/><circle cx="317.6" cy="83.8" r="1.2"/><circle cx="293.5" cy="90.9" r="1.2"/><circle cx="259.9" cy="56.7" r="1.2"/><circle cx="285.4" cy="88.5" r="1.2"/><circle cx="327.6" cy="75.3" r="1.2"/><circle cx="312.1" cy="71.9" r="1.2"/><circle cx="259.4" cy="78.9" r="1.2"/><circle cx="256.3" cy="85.1" r="1.2"/><circle cx="301.3" cy="85.4" r="1.2"/><circle cx="271.6" cy="60.4" r="1.2"/><circle cx="245.2" cy="92.4" r="1.2"/><circle cx="266.2" cy="76.7" r="1.2"/><circle cx="237.6" cy="69.3" r="1.2"/><circle cx="294.4" cy="83.9" r="1.2"/><circle cx="248.9" cy="67.0" r="1.2"/><circle cx="231.6" cy="82.2" r="1.2"/><circle cx="272.5" cy="59.9" r="1.2"/><circle cx="288.5" cy="77.4" r="1.2"/><circle cx="254.6" cy="62.0" r="1.2"/><circle cx="313.8" cy="81.1" r="1.2"/><circle cx="267.8" cy="70.7" r="1.2"/><circle cx="240.2" cy="78.8" r="1.2"/><circle cx="310.8" cy="74.5" r="1.2"/><circle cx="274.0" cy="86.6" r="1.2"/><circle cx="243.1" cy="79.8" r="1.2"/><circle cx="254.6" cy="94.0" r="1.2"/><circle cx="271.1" cy="82.0" r="1.2"/><circle cx="238.2" cy="83.9" r="1.2"/><circle cx="235.8" cy="65.2" r="1.2"/><circle cx="306.6" cy="80.6" r="1.2"/><circle cx="263.5" cy="110.4" r="1.2"/><circle cx="263.0" cy="115.6" r="1.2"/><circle cx="264.8" cy="116.1" r="1.2"/><circle cx="263.5" cy="121.3" r="1.2"/><circle cx="263.9" cy="126.2" r="1.2"/></g>
<g fill="#c4c4c4" stroke="#505050" stroke-width="0.72" fill-opacity="1.0" stroke-opacity="1.0"><circle cx="437.4" cy="220.2" r="1.0"/><circle cx="447.3" cy="244.1" r="1.0"/><circle cx="412.3" cy="146.6" r="1.0"/><circle cx="429.1" cy="258.7" r="1.0"/><circle cx="459.8" cy="242.5" r="1.0"/><circle cx="396.2" cy="166.6" r="1.0"/><circle cx="444.0" cy="167.6" r="1.0"/><circle cx="379.4" cy="200.7" r="1.0"/><circle cx="445.8" cy="165.7" r="1.0"/><circle cx="440.3" cy="290.4" r="1.0"/><circle cx="467.1" cy="166.9" r="1.0"/><circle cx="390.2" cy="173.9" r="1.0"/><circle cx="449.5" cy="201.8" r="1.0"/><circle cx="446.8" cy="253.9" r="1.0"/><circle cx="436.6" cy="205.5" r="1.0"/><circle cx="454.6" cy="145.7" r="1.0"/><circle cx="444.3" cy="254.8" r="1.0"/><circle cx="500.2" cy="187.9" r="1.0"/><circle cx="526.9" cy="200.2" r="1.0"/><circle cx="437.7" cy="161.7" r="1.0"/><circle cx="424.7" cy="244.4" r="1.0"/><circle cx="451.2" cy="243.8" r="1.0"/><circle cx="487.3" cy="200.6" r="1.0"/><circle cx="427.3" cy="146.9" r="1.0"/><circle cx="439.0" cy="138.9" r="1.0"/><circle cx="486.2" cy="233.3" r="1.0"/><circle cx="387.3" cy="175.4" r="1.0"/><circle cx="482.0" cy="163.1" r="1.0"/><circle cx="393.6" cy="228.6" r="1.0"/><circle cx="396.8" cy="205.2" r="1.0"/><circle cx="400.9" cy="163.8" r="1.0"/><circle cx="449.2" cy="164.5" r="1.0"/><circle cx="483.4" cy="176.9" r="1.0"/><circle cx="400.1" cy="162.8" r="1.0"/><circle cx="472.8" cy="238.8" r="1.0"/><circle cx="468.5" cy="157.2" r="1.0"/><circle cx="393.9" cy="185.4" r="1.0"/><circle cx="453.4" cy="184.0" r="1.0"/><circle cx="502.9" cy="179.9" r="1.0"/><circle cx="497.3" cy="190.5" r="1.0"/><circle cx="439.2" cy="174.5" r="1.0"/><circle cx="488.2" cy="219.2" r="1.0"/><circle cx="470.6" cy="195.9" r="1.0"/><circle cx="473.9" cy="218.0" r="1.0"/><circle cx="439.5" cy="256.7" r="1.0"/><circle cx="437.1" cy="175.8" r="1.0"/><circle cx="410.6" cy="157.4" r="1.0"/><circle cx="483.0" cy="154.6" r="1.0"/><circle cx="437.8" cy="210.0" r="1.0"/><circle cx="504.3" cy="185.7" r="1.0"/><circle cx="467.5" cy="172.6" r="1.0"/><circle cx="462.5" cy="212.7" r="1.0"/><circle cx="368.2" cy="194.6" r="1.0"/><circle cx="433.4" cy="201.4" r="1.0"/><circle cx="482.4" cy="156.7" r="1.0"/><circle cx="425.8" cy="247.0" r="1.0"/><circle cx="425.1" cy="136.2" r="1.0"/><circle cx="479.9" cy="173.2" r="1.0"/><circle cx="470.4" cy="224.1" r="1.0"/><circle cx="381.5" cy="179.4" r="1.0"/><circle cx="366.9" cy="190.9" r="1.0"/><circle cx="446.7" cy="291.0" r="1.0"/><circle cx="462.7" cy="220.8" r="1.0"/><circle cx="480.5" cy="157.6" r="1.0"/><circle cx="409.8" cy="217.1" r="1.0"/><circle cx="403.8" cy="206.9" r="1.0"/><circle cx="452.8" cy="188.2" r="1.0"/><circle cx="447.4" cy="173.1" r="1.0"/><circle cx="436.7" cy="169.0" r="1.0"/><circle cx="474.6" cy="162.4" r="1.0"/><circle cx="396.7" cy="207.9" r="1.0"/><circle cx="490.6" cy="181.5" r="1.0"/><circle cx="527.3" cy="197.0" r="1.0"/><circle cx="473.0" cy="181.6" r="1.0"/><circle cx="446.5" cy="215.5" r="1.0"/><circle cx="462.0" cy="199.3" r="1.0"/><circle cx="482.3" cy="211.5" r="1.0"/><circle cx="498.0" cy="209.0" r="1.0"/><circle cx="414.9" cy="173.2" r="1.0"/><circle cx="432.6" cy="212.8" r="1.0"/><circle cx="463.4" cy="148.5" r="1.0"/><circle cx="454.3" cy="261.3" r="1.0"/><circle cx="395.5" cy="188.4" r="1.0"/><circle cx="424.9" cy="170.3" r="1.0"/><circle cx="409.5" cy="150.1" r="1.0"/><circle cx="485.6" cy="185.3" r="1.0"/><circle cx="505.1" cy="174.6" r="1.0"/><circle cx="467.9" cy="197.8" r="1.0"/><circle cx="452.9" cy="166.8" r="1.0"/><circle cx="379.5" cy="174.7" r="1.0"/><circle cx="402.7" cy="212.7" r="1.0"/><circle cx="450.2" cy="214.9" r="1.0"/><circle cx="487.3" cy="214.7" r="1.0"/><circle cx="445.4" cy="175.0" r="1.0"/><circle cx="491.4" cy="221.3" r="1.0"/><circle cx="480.7" cy="186.9" r="1.0"/><circle cx="385.1" cy="180.8" r="1.0"/><circle cx="435.8" cy="192.5" r="1.0"/><circle cx="451.8" cy="253.3" r="1.0"/><circle cx="373.5" cy="178.5" r="1.0"/><circle cx="474.7" cy="152.3" r="1.0"/><circle cx="386.4" cy="191.2" r="1.0"/><circle cx="421.1" cy="154.8" r="1.0"/><circle cx="454.5" cy="238.5" r="1.0"/><circle cx="472.6" cy="214.2" r="1.0"/><circle cx="448.9" cy="132.7" r="1.0"/><circle cx="428.3" cy="211.2" r="1.0"/><circle cx="451.3" cy="172.0" r="1.0"/><circle cx="508.1" cy="184.7" r="1.0"/><circle cx="443.7" cy="242.1" r="1.0"/><circle cx="442.5" cy="154.8" r="1.0"/><circle cx="463.8" cy="194.1" r="1.0"/><circle cx="459.1" cy="245.6" r="1.0"/><circle cx="475.4" cy="211.0" r="1.0"/><circle cx="484.1" cy="224.5" r="1.0"/><circle cx="435.2" cy="172.8" r="1.0"/><circle cx="438.7" cy="248.1" r="1.0"/><circle cx="431.1" cy="173.7" r="1.0"/><circle cx="446.8" cy="230.9" r="1.0"/><circle cx="433.4" cy="179.9" r="1.0"/><circle cx="436.2" cy="248.9" r="1.0"/><circle cx="422.0" cy="148.8" r="1.0"/><circle cx="443.1" cy="257.0" r="1.0"/><circle cx="415.4" cy="217.8" r="1.0"/><circle cx="432.3" cy="282.7" r="1.0"/><circle cx="512.2" cy="202.7" r="1.0"/><circle cx="458.7" cy="168.1" r="1.0"/><circle cx="407.4" cy="165.0" r="1.0"/><circle cx="457.6" cy="241.2" r="1.0"/><circle cx="437.2" cy="196.9" r="1.0"/><circle cx="402.4" cy="181.5" r="1.0"/><circle cx="461.2" cy="216.3" r="1.0"/><circle cx="404.5" cy="157.6" r="1.0"/><circle cx="440.5" cy="154.1" r="1.0"/><circle cx="378.9" cy="193.6" r="1.0"/><circle cx="488.5" cy="162.8" r="1.0"/><circle cx="365.3" cy="204.1" r="1.0"/><circle cx="438.2" cy="266.1" r="1.0"/><circle cx="376.0" cy="191.8" r="1.0"/><circle cx="362.9" cy="198.8" r="1.0"/><circle cx="449.5" cy="137.5" r="1.0"/><circle cx="393.8" cy="219.3" r="1.0"/><circle cx="437.0" cy="254.1" r="1.0"/><circle cx="496.8" cy="195.0" r="1.0"/><circle cx="426.7" cy="221.8" r="1.0"/><circle cx="406.6" cy="229.2" r="1.0"/><circle cx="452.5" cy="268.8" r="1.0"/><circle cx="470.3" cy="231.6" r="1.0"/><circle cx="503.6" cy="210.1" r="1.0"/><circle cx="410.3" cy="166.9" r="1.0"/><circle cx="386.1" cy="209.1" r="1.0"/><circle cx="421.9" cy="168.6" r="1.0"/><circle cx="486.6" cy="204.7" r="1.0"/><circle cx="445.8" cy="191.0" r="1.0"/><circle cx="440.1" cy="213.6" r="1.0"/><circle cx="453.7" cy="175.4" r="1.0"/><circle cx="373.4" cy="182.0" r="1.0"/><circle cx="463.2" cy="169.7" r="1.0"/><circle cx="461.4" cy="154.1" r="1.0"/><circle cx="490.5" cy="211.3" r="1.0"/><circle cx="435.8" cy="152.1" r="1.0"/><circle cx="444.2" cy="136.6" r="1.0"/><circle cx="432.7" cy="145.5" r="1.0"/><circle cx="431.8" cy="261.4" r="1.0"/><circle cx="466.2" cy="241.0" r="1.0"/><circle cx="406.9" cy="201.9" r="1.0"/><circle cx="476.0" cy="215.9" r="1.0"/><circle cx="454.6" cy="209.5" r="1.0"/><circle cx="449.4" cy="239.7" r="1.0"/><circle cx="458.2" cy="236.1" r="1.0"/><circle cx="391.3" cy="225.5" r="1.0"/><circle cx="395.7" cy="192.3" r="1.0"/><circle cx="451.6" cy="211.3" r="1.0"/><circle cx="464.0" cy="180.6" r="1.0"/><circle cx="469.8" cy="163.7" r="1.0"/><circle cx="465.1" cy="234.0" r="1.0"/><circle cx="488.4" cy="174.0" r="1.0"/><circle cx="397.4" cy="203.2" r="1.0"/><circle cx="475.4" cy="232.7" r="1.0"/><circle cx="411.5" cy="180.4" r="1.0"/><circle cx="451.7" cy="251.1" r="1.0"/><circle cx="488.2" cy="166.3" r="1.0"/><circle cx="444.7" cy="217.8" r="1.0"/><circle cx="446.3" cy="208.6" r="1.0"/><circle cx="389.9" cy="189.7" r="1.0"/><circle cx="410.1" cy="153.3" r="1.0"/><circle cx="431.8" cy="216.3" r="1.0"/><circle cx="412.4" cy="185.0" r="1.0"/><circle cx="403.5" cy="166.0" r="1.0"/><circle cx="442.5" cy="262.9" r="1.0"/><circle cx="375.5" cy="208.4" r="1.0"/><circle cx="455.4" cy="221.7" r="1.0"/><circle cx="428.3" cy="202.5" r="1.0"/><circle cx="422.4" cy="157.1" r="1.0"/><circle cx="400.9" cy="200.4" r="1.0"/><circle cx="464.2" cy="238.0" r="1.0"/><circle cx="413.1" cy="214.1" r="1.0"/><circle cx="374.3" cy="199.3" r="1.0"/><circle cx="400.8" cy="197.2" r="1.0"/><circle cx="524.2" cy="193.9" r="1.0"/><circle cx="416.1" cy="157.8" r="1.0"/><circle cx="399.1" cy="190.6" r="1.0"/><circle cx="449.8" cy="261.7" r="1.0"/><circle cx="456.7" cy="198.4" r="1.0"/><circle cx="467.4" cy="185.5" r="1.0"/><circle cx="462.8" cy="225.3" r="1.0"/><circle cx="453.9" cy="216.7" r="1.0"/><circle cx="476.3" cy="201.3" r="1.0"/><circle cx="440.9" cy="163.2" r="1.0"/><circle cx="477.1" cy="220.7" r="1.0"/><circle cx="414.7" cy="163.6" r="1.0"/><circle cx="435.3" cy="184.5" r="1.0"/><circle cx="495.2" cy="220.2" r="1.0"/><circle cx="461.2" cy="162.5" r="1.0"/><circle cx="477.7" cy="190.6" r="1.0"/><circle cx="508.5" cy="181.9" r="1.0"/><circle cx="395.7" cy="175.2" r="1.0"/><circle cx="450.7" cy="179.5" r="1.0"/><circle cx="497.8" cy="201.2" r="1.0"/><circle cx="435.7" cy="238.5" r="1.0"/><circle cx="441.5" cy="207.0" r="1.0"/><circle cx="434.7" cy="148.0" r="1.0"/><circle cx="419.7" cy="159.1" r="1.0"/><circle cx="407.3" cy="159.2" r="1.0"/><circle cx="493.9" cy="169.9" r="1.0"/><circle cx="466.3" cy="220.0" r="1.0"/><circle cx="503.0" cy="171.0" r="1.0"/><circle cx="440.1" cy="200.0" r="1.0"/><circle cx="402.5" cy="169.6" r="1.0"/><circle cx="405.9" cy="215.3" r="1.0"/><circle cx="495.2" cy="175.4" r="1.0"/><circle cx="508.6" cy="201.0" r="1.0"/><circle cx="446.5" cy="204.6" r="1.0"/><circle cx="402.7" cy="186.2" r="1.0"/><circle cx="407.2" cy="177.9" r="1.0"/><circle cx="420.5" cy="175.5" r="1.0"/><circle cx="361.2" cy="195.2" r="1.0"/><circle cx="421.3" cy="186.1" r="1.0"/><circle cx="449.9" cy="230.1" r="1.0"/><circle cx="472.9" cy="167.7" r="1.0"/><circle cx="430.2" cy="153.8" r="1.0"/><circle cx="430.6" cy="193.3" r="1.0"/><circle cx="427.3" cy="163.1" r="1.0"/><circle cx="451.9" cy="219.5" r="1.0"/><circle cx="455.0" cy="213.1" r="1.0"/><circle cx="455.5" cy="148.9" r="1.0"/><circle cx="410.0" cy="155.1" r="1.0"/><circle cx="441.7" cy="251.1" r="1.0"/><circle cx="410.6" cy="192.8" r="1.0"/><circle cx="406.3" cy="204.7" r="1.0"/><circle cx="488.1" cy="168.3" r="1.0"/><circle cx="394.2" cy="170.2" r="1.0"/><circle cx="463.9" cy="232.8" r="1.0"/><circle cx="514.2" cy="186.4" r="1.0"/><circle cx="516.5" cy="207.0" r="1.0"/><circle cx="414.4" cy="156.3" r="1.0"/><circle cx="398.3" cy="214.3" r="1.0"/><circle cx="468.8" cy="235.8" r="1.0"/><circle cx="445.3" cy="237.0" r="1.0"/><circle cx="433.8" cy="220.8" r="1.0"/><circle cx="481.8" cy="232.0" r="1.0"/><circle cx="387.0" cy="187.0" r="1.0"/><circle cx="505.7" cy="191.8" r="1.0"/><circle cx="439.8" cy="186.3" r="1.0"/><circle cx="456.1" cy="164.1" r="1.0"/><circle cx="443.3" cy="171.1" r="1.0"/><circle cx="376.9" cy="187.9" r="1.0"/><circle cx="390.6" cy="201.3" r="1.0"/><circle cx="394.0" cy="208.7" r="1.0"/><circle cx="475.3" cy="195.1" r="1.0"/><circle cx="495.4" cy="186.2" r="1.0"/><circle cx="421.4" cy="164.6" r="1.0"/><circle cx="408.7" cy="182.3" r="1.0"/><circle cx="452.8" cy="273.9" r="1.0"/><circle cx="420.0" cy="181.5" r="1.0"/><circle cx="428.2" cy="270.8" r="1.0"/><circle cx="394.0" cy="180.6" r="1.0"/><circle cx="432.0" cy="252.7" r="1.0"/><circle cx="392.8" cy="206.0" r="1.0"/><circle cx="440.6" cy="294.8" r="1.0"/><circle cx="472.5" cy="226.1" r="1.0"/><circle cx="445.4" cy="156.9" r="1.0"/><circle cx="399.3" cy="193.7" r="1.0"/><circle cx="427.9" cy="157.8" r="1.0"/><circle cx="432.0" cy="195.2" r="1.0"/><circle cx="424.7" cy="262.4" r="1.0"/><circle cx="491.0" cy="171.6" r="1.0"/><circle cx="453.9" cy="255.7" r="1.0"/><circle cx="429.5" cy="133.9" r="1.0"/><circle cx="478.2" cy="169.5" r="1.0"/><circle cx="429.0" cy="209.0" r="1.0"/><circle cx="431.6" cy="155.4" r="1.0"/><circle cx="397.9" cy="221.6" r="1.0"/><circle cx="477.0" cy="224.7" r="1.0"/><circle cx="379.8" cy="194.1" r="1.0"/><circle cx="422.9" cy="231.1" r="1.0"/><circle cx="387.4" cy="171.7" r="1.0"/><circle cx="442.4" cy="223.2" r="1.0"/><circle cx="419.0" cy="229.1" r="1.0"/><circle cx="368.0" cy="198.4" r="1.0"/><circle cx="503.0" cy="193.7" r="1.0"/><circle cx="432.4" cy="226.7" r="1.0"/><circle cx="468.5" cy="217.2" r="1.0"/><circle cx="420.7" cy="215.3" r="1.0"/><circle cx="411.7" cy="171.3" r="1.0"/><circle cx="417.6" cy="212.6" r="1.0"/><circle cx="431.4" cy="229.3" r="1.0"/><circle cx="440.5" cy="241.3" r="1.0"/><circle cx="424.3" cy="187.8" r="1.0"/><circle cx="385.2" cy="222.9" r="1.0"/><circle cx="432.8" cy="177.4" r="1.0"/><circle cx="434.7" cy="255.0" r="1.0"/><circle cx="484.1" cy="222.0" r="1.0"/><circle cx="504.1" cy="176.2" r="1.0"/><circle cx="448.1" cy="235.5" r="1.0"/><circle cx="416.6" cy="205.1" r="1.0"/><circle cx="431.5" cy="160.3" r="1.0"/><circle cx="399.6" cy="156.9" r="1.0"/><circle cx="407.8" cy="178.6" r="1.0"/><circle cx="458.6" cy="147.4" r="1.0"/><circle cx="428.0" cy="214.7" r="1.0"/><circle cx="475.4" cy="155.6" r="1.0"/><circle cx="484.8" cy="213.4" r="1.0"/><circle cx="412.4" cy="222.2" r="1.0"/><circle cx="386.7" cy="167.4" r="1.0"/><circle cx="424.8" cy="179.3" r="1.0"/><circle cx="424.5" cy="166.8" r="1.0"/><circle cx="443.3" cy="186.6" r="1.0"/><circle cx="522.8" cy="198.8" r="1.0"/><circle cx="504.0" cy="208.3" r="1.0"/><circle cx="400.8" cy="218.1" r="1.0"/><circle cx="425.0" cy="160.7" r="1.0"/><circle cx="496.3" cy="212.0" r="1.0"/><circle cx="454.2" cy="136.9" r="1.0"/><circle cx="515.3" cy="205.6" r="1.0"/><circle cx="377.6" cy="207.5" r="1.0"/><circle cx="458.9" cy="226.5" r="1.0"/><circle cx="426.1" cy="227.4" r="1.0"/><circle cx="435.8" cy="271.0" r="1.0"/><circle cx="466.5" cy="211.8" r="1.0"/><circle cx="463.7" cy="173.7" r="1.0"/><circle cx="372.7" cy="205.7" r="1.0"/><circle cx="399.6" cy="160.5" r="1.0"/><circle cx="407.0" cy="198.9" r="1.0"/><circle cx="440.8" cy="232.8" r="1.0"/><circle cx="398.6" cy="173.4" r="1.0"/><circle cx="474.3" cy="230.2" r="1.0"/><circle cx="492.3" cy="212.9" r="1.0"/><circle cx="429.4" cy="168.3" r="1.0"/><circle cx="451.3" cy="282.4" r="1.0"/><circle cx="396.4" cy="199.7" r="1.0"/><circle cx="501.2" cy="203.1" r="1.0"/><circle cx="437.7" cy="230.5" r="1.0"/><circle cx="425.1" cy="213.3" r="1.0"/><circle cx="459.7" cy="203.0" r="1.0"/><circle cx="436.3" cy="211.9" r="1.0"/><circle cx="459.9" cy="166.0" r="1.0"/><circle cx="427.3" cy="242.2" r="1.0"/><circle cx="472.0" cy="174.1" r="1.0"/><circle cx="433.7" cy="188.7" r="1.0"/><circle cx="422.9" cy="219.6" r="1.0"/><circle cx="495.9" cy="163.4" r="1.0"/><circle cx="417.7" cy="169.5" r="1.0"/><circle cx="438.9" cy="203.5" r="1.0"/><circle cx="446.7" cy="283.9" r="1.0"/><circle cx="489.6" cy="228.5" r="1.0"/><circle cx="447.6" cy="162.2" r="1.0"/><circle cx="446.0" cy="134.3" r="1.0"/><circle cx="452.4" cy="258.1" r="1.0"/><circle cx="448.1" cy="156.1" r="1.0"/><circle cx="405.9" cy="235.3" r="1.0"/><circle cx="425.8" cy="237.5" r="1.0"/><circle cx="371.1" cy="189.0" r="1.0"/><circle cx="461.8" cy="145.5" r="1.0"/><circle cx="463.2" cy="157.9" r="1.0"/><circle cx="428.4" cy="164.1" r="1.0"/><circle cx="386.1" cy="217.5" r="1.0"/><circle cx="500.9" cy="198.6" r="1.0"/><circle cx="454.6" cy="163.0" r="1.0"/><circle cx="390.4" cy="198.6" r="1.0"/><circle cx="481.3" cy="166.9" r="1.0"/><circle cx="420.1" cy="193.7" r="1.0"/><circle cx="428.0" cy="267.8" r="1.0"/><circle cx="438.4" cy="259.5" r="1.0"/><circle cx="420.8" cy="211.5" r="1.0"/><circle cx="478.6" cy="175.1" r="1.0"/><circle cx="459.3" cy="179.2" r="1.0"/><circle cx="394.3" cy="162.1" r="1.0"/><circle cx="440.3" cy="170.5" r="1.0"/><circle cx="439.6" cy="157.9" r="1.0"/><circle cx="451.1" cy="198.9" r="1.0"/><circle cx="444.2" cy="200.4" r="1.0"/><circle cx="424.5" cy="216.8" r="1.0"/><circle cx="486.8" cy="189.4" r="1.0"/><circle cx="470.4" cy="202.5" r="1.0"/><circle cx="440.8" cy="193.9" r="1.0"/><circle cx="467.2" cy="148.1" r="1.0"/><circle cx="466.5" cy="204.9" r="1.0"/><circle cx="386.6" cy="207.4" r="1.0"/><circle cx="404.6" cy="209.9" r="1.0"/><circle cx="370.3" cy="192.6" r="1.0"/><circle cx="486.1" cy="230.5" r="1.0"/><circle cx="463.5" cy="160.8" r="1.0"/><circle cx="472.0" cy="188.5" r="1.0"/><circle cx="465.0" cy="215.4" r="1.0"/><circle cx="481.1" cy="168.7" r="1.0"/><circle cx="516.4" cy="192.6" r="1.0"/><circle cx="443.3" cy="271.0" r="1.0"/><circle cx="387.6" cy="212.0" r="1.0"/><circle cx="464.3" cy="144.5" r="1.0"/><circle cx="442.8" cy="214.0" r="1.0"/><circle cx="417.2" cy="184.1" r="1.0"/><circle cx="367.4" cy="207.1" r="1.0"/><circle cx="433.7" cy="263.5" r="1.0"/><circle cx="516.8" cy="199.3" r="1.0"/><circle cx="460.4" cy="206.8" r="1.0"/><circle cx="491.4" cy="192.9" r="1.0"/><circle cx="423.4" cy="198.0" r="1.0"/><circle cx="389.6" cy="165.6" r="1.0"/><circle cx="494.5" cy="215.5" r="1.0"/><circle cx="411.8" cy="210.6" r="1.0"/><circle cx="446.9" cy="148.3" r="1.0"/><circle cx="476.3" cy="160.8" r="1.0"/><circle cx="420.8" cy="234.0" r="1.0"/><circle cx="454.9" cy="201.2" r="1.0"/><circle cx="505.0" cy="196.6" r="1.0"/><circle cx="445.2" cy="150.3" r="1.0"/><circle cx="463.5" cy="150.7" r="1.0"/><circle cx="470.4" cy="175.6" r="1.0"/><circle cx="450.6" cy="160.7" r="1.0"/><circle cx="416.3" cy="245.0" r="1.0"/><circle cx="506.6" cy="189.8" r="1.0"/><circle cx="506.4" cy="194.4" r="1.0"/><circle cx="396.9" cy="211.1" r="1.0"/><circle cx="417.5" cy="151.0" r="1.0"/><circle cx="498.3" cy="183.5" r="1.0"/><circle cx="439.1" cy="228.4" r="1.0"/><circle cx="456.4" cy="205.0" r="1.0"/><circle cx="476.0" cy="205.4" r="1.0"/><circle cx="395.8" cy="158.7" r="1.0"/><circle cx="516.2" cy="196.4" r="1.0"/><circle cx="422.9" cy="173.9" r="1.0"/><circle cx="500.6" cy="177.4" r="1.0"/><circle cx="376.8" cy="180.1" r="1.0"/><circle cx="487.0" cy="175.5" r="1.0"/><circle cx="413.3" cy="227.7" r="1.0"/><circle cx="404.5" cy="195.5" r="1.0"/><circle cx="417.0" cy="215.6" r="1.0"/><circle cx="470.0" cy="146.3" r="1.0"/><circle cx="422.6" cy="206.9" r="1.0"/><circle cx="382.5" cy="173.0" r="1.0"/><circle cx="448.1" cy="189.1" r="1.0"/><circle cx="476.5" cy="179.0" r="1.0"/><circle cx="481.0" cy="229.4" r="1.0"/><circle cx="420.8" cy="162.4" r="1.0"/><circle cx="433.2" cy="273.4" r="1.0"/><circle cx="465.7" cy="191.3" r="1.0"/><circle cx="416.8" cy="238.2" r="1.0"/><circle cx="390.4" cy="179.1" r="1.0"/><circle cx="431.4" cy="140.4" r="1.0"/><circle cx="477.9" cy="227.5" r="1.0"/><circle cx="422.6" cy="201.0" r="1.0"/><circle cx="413.4" cy="230.2" r="1.0"/><circle cx="391.0" cy="214.9" r="1.0"/><circle cx="510.4" cy="188.7" r="1.0"/><circle cx="399.8" cy="154.7" r="1.0"/><circle cx="398.7" cy="179.7" r="1.0"/><circle cx="459.8" cy="196.5" r="1.0"/><circle cx="456.9" cy="259.5" r="1.0"/><circle cx="480.9" cy="219.6" r="1.0"/><circle cx="431.8" cy="240.6" r="1.0"/><circle cx="441.9" cy="207.2" r="1.0"/><circle cx="464.1" cy="155.1" r="1.0"/><circle cx="451.3" cy="205.9" r="1.0"/><circle cx="499.0" cy="180.8" r="1.0"/><circle cx="451.1" cy="264.2" r="1.0"/><circle cx="442.1" cy="178.6" r="1.0"/><circle cx="481.4" cy="180.4" r="1.0"/><circle cx="434.2" cy="162.6" r="1.0"/><circle cx="417.0" cy="235.9" r="1.0"/><circle cx="382.6" cy="176.4" r="1.0"/><circle cx="405.4" cy="211.5" r="1.0"/><circle cx="495.9" cy="167.3" r="1.0"/><circle cx="479.8" cy="215.3" r="1.0"/><circle cx="418.8" cy="190.5" r="1.0"/><circle cx="519.0" cy="201.4" r="1.0"/><circle cx="437.2" cy="135.5" r="1.0"/><circle cx="495.9" cy="192.1" r="1.0"/><circle cx="469.7" cy="222.3" r="1.0"/><circle cx="430.5" cy="148.4" r="1.0"/><circle cx="474.9" cy="171.3" r="1.0"/><circle cx="436.3" cy="261.2" r="1.0"/><circle cx="392.4" cy="168.5" r="1.0"/><circle cx="481.3" cy="208.7" r="1.0"/><circle cx="470.9" cy="209.9" r="1.0"/><circle cx="444.1" cy="158.8" r="1.0"/><circle cx="437.7" cy="236.2" r="1.0"/><circle cx="462.3" cy="183.1" r="1.0"/><circle cx="388.7" cy="195.0" r="1.0"/><circle cx="461.8" cy="139.4" r="1.0"/><circle cx="450.9" cy="192.7" r="1.0"/><circle cx="439.2" cy="217.2" r="1.0"/><circle cx="454.7" cy="244.6" r="1.0"/><circle cx="434.9" cy="232.0" r="1.0"/><circle cx="483.5" cy="172.1" r="1.0"/><circle cx="466.6" cy="177.2" r="1.0"/><circle cx="512.2" cy="198.2" r="1.0"/><circle cx="435.3" cy="286.9" r="1.0"/><circle cx="446.7" cy="264.9" r="1.0"/><circle cx="427.2" cy="253.8" r="1.0"/><circle cx="426.9" cy="259.6" r="1.0"/><circle cx="432.2" cy="235.1" r="1.0"/><circle cx="431.7" cy="166.1" r="1.0"/><circle cx="465.7" cy="200.8" r="1.0"/><circle cx="416.9" cy="244.1" r="1.0"/><circle cx="387.7" cy="169.3" r="1.0"/><circle cx="416.1" cy="179.6" r="1.0"/><circle cx="445.2" cy="245.2" r="1.0"/><circle cx="411.3" cy="231.7" r="1.0"/><circle cx="412.1" cy="160.8" r="1.0"/><circle cx="427.0" cy="150.7" r="1.0"/><circle cx="414.6" cy="207.7" r="1.0"/><circle cx="376.0" cy="184.9" r="1.0"/><circle cx="398.5" cy="230.5" r="1.0"/><circle cx="444.3" cy="182.2" r="1.0"/><circle cx="468.7" cy="229.1" r="1.0"/><circle cx="491.7" cy="202.2" r="1.0"/><circle cx="442.0" cy="283.0" r="1.0"/><circle cx="462.0" cy="175.3" r="1.0"/><circle cx="508.5" cy="206.5" r="1.0"/><circle cx="399.0" cy="177.2" r="1.0"/><circle cx="410.2" cy="234.5" r="1.0"/><circle cx="458.0" cy="190.2" r="1.0"/><circle cx="400.3" cy="224.2" r="1.0"/><circle cx="468.8" cy="208.1" r="1.0"/><circle cx="473.8" cy="241.8" r="1.0"/><circle cx="406.2" cy="191.2" r="1.0"/><circle cx="410.5" cy="194.9" r="1.0"/><circle cx="447.3" cy="248.5" r="1.0"/><circle cx="500.0" cy="173.0" r="1.0"/><circle cx="390.8" cy="182.6" r="1.0"/><circle cx="433.8" cy="157.5" r="1.0"/><circle cx="445.7" cy="225.8" r="1.0"/><circle cx="392.1" cy="196.8" r="1.0"/><circle cx="359.4" cy="193.9" r="1.0"/><circle cx="355.6" cy="197.0" r="1.0"/><circle cx="424.5" cy="141.9" r="1.0"/><circle cx="483.8" cy="199.7" r="1.0"/><circle cx="455.0" cy="152.0" r="1.0"/><circle cx="416.0" cy="176.7" r="1.0"/><circle cx="436.3" cy="268.5" r="1.0"/><circle cx="407.7" cy="224.7" r="1.0"/><circle cx="435.9" cy="244.1" r="1.0"/><circle cx="496.4" cy="173.7" r="1.0"/><circle cx="426.1" cy="196.1" r="1.0"/><circle cx="483.2" cy="217.0" r="1.0"/><circle cx="477.0" cy="164.8" r="1.0"/><circle cx="449.7" cy="176.4" r="1.0"/><circle cx="424.7" cy="248.5" r="1.0"/><circle cx="458.3" cy="186.0" r="1.0"/><circle cx="428.9" cy="180.7" r="1.0"/><circle cx="478.7" cy="198.7" r="1.0"/><circle cx="399.1" cy="184.2" r="1.0"/><circle cx="405.5" cy="226.2" r="1.0"/><circle cx="447.5" cy="212.3" r="1.0"/><circle cx="471.6" cy="153.8" r="1.0"/><circle cx="421.5" cy="224.6" r="1.0"/><circle cx="436.8" cy="156.7" r="1.0"/><circle cx="415.8" cy="192.1" r="1.0"/><circle cx="418.8" cy="145.0" r="1.0"/><circle cx="468.6" cy="159.2" r="1.0"/><circle cx="460.4" cy="207.4" r="1.0"/><circle cx="444.4" cy="275.6" r="1.0"/><circle cx="432.8" cy="169.7" r="1.0"/><circle cx="414.1" cy="223.9" r="1.0"/><circle cx="466.3" cy="244.1" r="1.0"/><circle cx="432.0" cy="274.4" r="1.0"/><circle cx="455.8" cy="170.3" r="1.0"/><circle cx="425.7" cy="156.2" r="1.0"/><circle cx="485.4" cy="179.6" r="1.0"/><circle cx="418.1" cy="203.1" r="1.0"/><circle cx="455.6" cy="270.7" r="1.0"/><circle cx="438.5" cy="149.8" r="1.0"/><circle cx="413.5" cy="163.2" r="1.0"/><circle cx="390.4" cy="177.4" r="1.0"/><circle cx="414.7" cy="188.3" r="1.0"/><circle cx="487.4" cy="207.7" r="1.0"/><circle cx="433.7" cy="257.4" r="1.0"/><circle cx="417.7" cy="165.7" r="1.0"/><circle cx="428.8" cy="175.3" r="1.0"/><circle cx="459.4" cy="156.4" r="1.0"/><circle cx="519.0" cy="195.2" r="1.0"/><circle cx="436.3" cy="278.9" r="1.0"/><circle cx="393.7" cy="224.6" r="1.0"/><circle cx="449.1" cy="256.0" r="1.0"/><circle cx="390.2" cy="193.0" r="1.0"/><circle cx="369.0" cy="201.2" r="1.0"/><circle cx="470.6" cy="206.1" r="1.0"/><circle cx="403.0" cy="172.5" r="1.0"/><circle cx="482.5" cy="193.8" r="1.0"/><circle cx="466.5" cy="168.9" r="1.0"/><circle cx="448.3" cy="195.3" r="1.0"/><circle cx="443.8" cy="229.0" r="1.0"/><circle cx="491.1" cy="188.4" r="1.0"/><circle cx="414.4" cy="148.1" r="1.0"/><circle cx="442.8" cy="194.0" r="1.0"/><circle cx="435.5" cy="225.4" r="1.0"/><circle cx="395.3" cy="213.1" r="1.0"/><circle cx="420.9" cy="209.6" r="1.0"/><circle cx="412.3" cy="175.1" r="1.0"/><circle cx="444.4" cy="268.4" r="1.0"/><circle cx="453.5" cy="194.8" r="1.0"/><circle cx="455.8" cy="191.8" r="1.0"/><circle cx="456.5" cy="159.5" r="1.0"/><circle cx="405.9" cy="186.7" r="1.0"/><circle cx="426.4" cy="183.4" r="1.0"/><circle cx="455.6" cy="173.9" r="1.0"/><circle cx="497.8" cy="217.3" r="1.0"/><circle cx="461.6" cy="193.7" r="1.0"/><circle cx="378.6" cy="197.7" r="1.0"/><circle cx="474.9" cy="157.8" r="1.0"/><circle cx="381.1" cy="183.9" r="1.0"/><circle cx="427.2" cy="235.6" r="1.0"/><circle cx="425.5" cy="230.2" r="1.0"/><circle cx="428.7" cy="189.8" r="1.0"/><circle cx="438.8" cy="277.7" r="1.0"/><circle cx="412.0" cy="201.2" r="1.0"/><circle cx="462.1" cy="187.3" r="1.0"/><circle cx="451.1" cy="207.5" r="1.0"/><circle cx="414.6" cy="196.5" r="1.0"/><circle cx="400.4" cy="168.0" r="1.0"/><circle cx="428.4" cy="224.5" r="1.0"/><circle cx="509.6" cy="178.2" r="1.0"/><circle cx="412.2" cy="205.9" r="1.0"/><circle cx="450.7" cy="147.5" r="1.0"/><circle cx="410.3" cy="213.5" r="1.0"/><circle cx="459.2" cy="171.5" r="1.0"/><circle cx="448.2" cy="220.5" r="1.0"/><circle cx="424.3" cy="177.7" r="1.0"/><circle cx="433.1" cy="208.3" r="1.0"/><circle cx="431.5" cy="250.3" r="1.0"/><circle cx="456.3" cy="224.3" r="1.0"/><circle cx="482.3" cy="160.4" r="1.0"/><circle cx="403.8" cy="175.6" r="1.0"/><circle cx="385.2" cy="199.1" r="1.0"/><circle cx="434.6" cy="198.8" r="1.0"/><circle cx="443.3" cy="140.0" r="1.0"/><circle cx="461.9" cy="230.5" r="1.0"/><circle cx="432.2" cy="244.2" r="1.0"/><circle cx="450.2" cy="143.8" r="1.0"/><circle cx="419.4" cy="220.6" r="1.0"/><circle cx="467.6" cy="189.8" r="1.0"/><circle cx="407.0" cy="168.8" r="1.0"/><circle cx="409.4" cy="170.4" r="1.0"/><circle cx="393.7" cy="164.4" r="1.0"/><circle cx="456.2" cy="229.3" r="1.0"/><circle cx="452.4" cy="232.4" r="1.0"/><circle cx="453.7" cy="234.6" r="1.0"/><circle cx="477.4" cy="212.6" r="1.0"/><circle cx="429.2" cy="232.5" r="1.0"/><circle cx="382.4" cy="195.6" r="1.0"/><circle cx="456.5" cy="254.2" r="1.0"/><circle cx="441.9" cy="252.2" r="1.0"/><circle cx="490.3" cy="206.0" r="1.0"/><circle cx="451.1" cy="247.1" r="1.0"/><circle cx="424.1" cy="256.9" r="1.0"/><circle cx="442.9" cy="233.7" r="1.0"/><circle cx="440.4" cy="270.2" r="1.0"/><circle cx="440.0" cy="145.7" r="1.0"/><circle cx="496.7" cy="169.2" r="1.0"/><circle cx="474.7" cy="235.2" r="1.0"/><circle cx="468.8" cy="245.0" r="1.0"/><circle cx="419.2" cy="172.1" r="1.0"/><circle cx="435.2" cy="132.2" r="1.0"/><circle cx="471.4" cy="193.2" r="1.0"/><circle cx="459.2" cy="218.7" r="1.0"/><circle cx="438.7" cy="167.3" r="1.0"/><circle cx="441.8" cy="132.0" r="1.0"/><circle cx="457.8" cy="249.1" r="1.0"/><circle cx="493.9" cy="179.4" r="1.0"/><circle cx="489.6" cy="184.1" r="1.0"/><circle cx="492.3" cy="195.6" r="1.0"/><circle cx="368.8" cy="186.4" r="1.0"/><circle cx="447.1" cy="145.0" r="1.0"/><circle cx="453.4" cy="155.4" r="1.0"/><circle cx="449.9" cy="273.0" r="1.0"/><circle cx="430.9" cy="245.3" r="1.0"/><circle cx="435.4" cy="215.4" r="1.0"/><circle cx="364.1" cy="201.7" r="1.0"/><circle cx="506.3" cy="205.0" r="1.0"/><circle cx="442.8" cy="146.6" r="1.0"/><circle cx="479.0" cy="207.3" r="1.0"/><circle cx="384.4" cy="185.9" r="1.0"/><circle cx="448.4" cy="269.6" r="1.0"/><circle cx="457.1" cy="157.4" r="1.0"/><circle cx="418.2" cy="199.6" r="1.0"/><circle cx="425.4" cy="145.6" r="1.0"/><circle cx="484.7" cy="194.1" r="1.0"/><circle cx="429.1" cy="199.2" r="1.0"/><circle cx="384.4" cy="206.6" r="1.0"/><circle cx="446.4" cy="273.6" r="1.0"/><circle cx="505.6" cy="199.6" r="1.0"/><circle cx="448.9" cy="184.9" r="1.0"/><circle cx="405.6" cy="236.9" r="1.0"/><circle cx="357.5" cy="200.3" r="1.0"/><circle cx="499.6" cy="213.9" r="1.0"/><circle cx="462.4" cy="244.3" r="1.0"/><circle cx="409.5" cy="189.2" r="1.0"/><circle cx="399.5" cy="226.8" r="1.0"/><circle cx="474.0" cy="150.1" r="1.0"/><circle cx="458.6" cy="262.1" r="1.0"/><circle cx="485.4" cy="191.2" r="1.0"/><circle cx="430.1" cy="218.9" r="1.0"/><circle cx="479.0" cy="207.0" r="1.0"/><circle cx="490.0" cy="225.4" r="1.0"/><circle cx="495.1" cy="199.0" r="1.0"/><circle cx="485.2" cy="226.7" r="1.0"/><circle cx="403.6" cy="156.0" r="1.0"/><circle cx="492.4" cy="177.9" r="1.0"/><circle cx="404.9" cy="220.8" r="1.0"/><circle cx="418.8" cy="225.9" r="1.0"/><circle cx="497.1" cy="207.5" r="1.0"/><circle cx="419.4" cy="242.6" r="1.0"/><circle cx="446.4" cy="180.1" r="1.0"/><circle cx="376.3" cy="202.9" r="1.0"/><circle cx="434.4" cy="136.8" r="1.0"/><circle cx="476.0" cy="192.4" r="1.0"/><circle cx="441.5" cy="281.6" r="1.0"/><circle cx="425.9" cy="191.7" r="1.0"/><circle cx="455.3" cy="140.7" r="1.0"/><circle cx="439.8" cy="273.6" r="1.0"/><circle cx="455.3" cy="181.1" r="1.0"/><circle cx="459.5" cy="211.2" r="1.0"/><circle cx="415.2" cy="167.6" r="1.0"/><circle cx="480.2" cy="203.3" r="1.0"/><circle cx="410.7" cy="242.0" r="1.0"/><circle cx="443.7" cy="289.9" r="1.0"/><circle cx="458.4" cy="231.8" r="1.0"/><circle cx="390.5" cy="220.5" r="1.0"/><circle cx="421.9" cy="251.6" r="1.0"/><circle cx="438.4" cy="190.8" r="1.0"/><circle cx="421.7" cy="194.2" r="1.0"/><circle cx="412.4" cy="198.4" r="1.0"/><circle cx="423.5" cy="207.4" r="1.0"/><circle cx="376.6" cy="205.0" r="1.0"/><circle cx="436.7" cy="144.1" r="1.0"/><circle cx="387.4" cy="215.5" r="1.0"/><circle cx="462.1" cy="248.1" r="1.0"/><circle cx="429.9" cy="255.7" r="1.0"/><circle cx="395.8" cy="171.4" r="1.0"/><circle cx="427.4" cy="171.5" r="1.0"/><circle cx="483.7" cy="164.2" r="1.0"/><circle cx="412.9" cy="239.1" r="1.0"/><circle cx="473.0" cy="199.1" r="1.0"/><circle cx="450.8" cy="153.6" r="1.0"/><circle cx="429.3" cy="137.0" r="1.0"/><circle cx="417.7" cy="232.7" r="1.0"/><circle cx="478.5" cy="236.3" r="1.0"/><circle cx="411.3" cy="208.7" r="1.0"/><circle cx="431.9" cy="206.4" r="1.0"/><circle cx="458.2" cy="177.5" r="1.0"/><circle cx="380.0" cy="190.0" r="1.0"/><circle cx="443.9" cy="210.5" r="1.0"/><circle cx="439.8" cy="245.0" r="1.0"/><circle cx="424.9" cy="254.2" r="1.0"/><circle cx="402.3" cy="216.2" r="1.0"/><circle cx="498.0" cy="206.9" r="1.0"/><circle cx="452.1" cy="227.1" r="1.0"/><circle cx="455.9" cy="136.0" r="1.0"/><circle cx="464.5" cy="228.3" r="1.0"/><circle cx="407.3" cy="162.5" r="1.0"/><circle cx="446.6" cy="280.4" r="1.0"/><circle cx="512.7" cy="193.4" r="1.0"/><circle cx="482.3" cy="196.9" r="1.0"/><circle cx="419.1" cy="147.4" r="1.0"/><circle cx="389.5" cy="211.3" r="1.0"/><circle cx="469.8" cy="213.6" r="1.0"/><circle cx="395.0" cy="216.5" r="1.0"/><circle cx="454.9" cy="266.9" r="1.0"/><circle cx="457.7" cy="214.3" r="1.0"/><circle cx="405.6" cy="232.0" r="1.0"/><circle cx="445.3" cy="261.2" r="1.0"/><circle cx="471.5" cy="184.2" r="1.0"/><circle cx="449.3" cy="224.6" r="1.0"/><circle cx="486.7" cy="170.4" r="1.0"/><circle cx="463.6" cy="208.9" r="1.0"/><circle cx="447.9" cy="169.3" r="1.0"/><circle cx="445.7" cy="197.1" r="1.0"/><circle cx="451.3" cy="157.6" r="1.0"/><circle cx="432.3" cy="269.1" r="1.0"/><circle cx="490.8" cy="162.0" r="1.0"/><circle cx="400.9" cy="229.8" r="1.0"/><circle cx="423.4" cy="241.0" r="1.0"/><circle cx="517.3" cy="190.8" r="1.0"/><circle cx="471.3" cy="170.4" r="1.0"/><circle cx="386.3" cy="204.7" r="1.0"/><circle cx="419.7" cy="153.9" r="1.0"/><circle cx="476.9" cy="186.2" r="1.0"/><circle cx="441.0" cy="222.4" r="1.0"/><circle cx="487.5" cy="158.5" r="1.0"/><circle cx="498.3" cy="222.5" r="1.0"/><circle cx="473.9" cy="165.9" r="1.0"/><circle cx="463.2" cy="165.4" r="1.0"/><circle cx="404.8" cy="207.3" r="1.0"/><circle cx="369.3" cy="196.5" r="1.0"/><circle cx="437.7" cy="181.8" r="1.0"/><circle cx="441.3" cy="178.0" r="1.0"/><circle cx="451.5" cy="168.6" r="1.0"/><circle cx="430.6" cy="185.6" r="1.0"/><circle cx="490.7" cy="216.4" r="1.0"/><circle cx="447.7" cy="259.4" r="1.0"/><circle cx="437.2" cy="283.5" r="1.0"/><circle cx="387.3" cy="163.5" r="1.0"/><circle cx="380.5" cy="171.0" r="1.0"/><circle cx="480.0" cy="182.5" r="1.0"/><circle cx="491.3" cy="165.5" r="1.0"/><circle cx="458.5" cy="256.8" r="1.0"/><circle cx="386.2" cy="202.4" r="1.0"/><circle cx="426.5" cy="204.9" r="1.0"/><circle cx="400.8" cy="194.1" r="1.0"/><circle cx="461.8" cy="251.3" r="1.0"/><circle cx="487.6" cy="209.9" r="1.0"/><circle cx="406.5" cy="174.1" r="1.0"/><circle cx="397.7" cy="233.4" r="1.0"/><circle cx="449.4" cy="278.8" r="1.0"/><circle cx="442.2" cy="163.5" r="1.0"/><circle cx="383.4" cy="214.0" r="1.0"/><circle cx="496.2" cy="205.1" r="1.0"/><circle cx="470.5" cy="156.2" r="1.0"/><circle cx="440.8" cy="262.1" r="1.0"/><circle cx="490.5" cy="197.3" r="1.0"/><circle cx="420.2" cy="139.5" r="1.0"/><circle cx="378.8" cy="210.3" r="1.0"/><circle cx="468.4" cy="163.2" r="1.0"/><circle cx="435.2" cy="165.5" r="1.0"/><circle cx="468.1" cy="179.9" r="1.0"/><circle cx="475.4" cy="178.0" r="1.0"/><circle cx="408.4" cy="219.8" r="1.0"/><circle cx="429.5" cy="264.7" r="1.0"/><circle cx="521.3" cy="203.5" r="1.0"/><circle cx="441.4" cy="299.6" r="1.0"/><circle cx="445.4" cy="298.9" r="1.0"/><circle cx="439.9" cy="304.4" r="1.0"/><circle cx="443.0" cy="303.3" r="1.0"/><circle cx="436.0" cy="313.0" r="1.0"/><circle cx="439.0" cy="311.5" r="1.0"/><circle cx="441.5" cy="313.0" r="1.0"/><circle cx="443.5" cy="313.3" r="1.0"/><circle cx="446.0" cy="313.5" r="1.0"/><circle cx="447.5" cy="313.0" r="1.0"/><circle cx="444.5" cy="310.0" r="1.0"/><circle cx="438.5" cy="315.5" r="1.0"/><circle cx="445.0" cy="316.0" r="1.0"/><circle cx="440.6" cy="317.7" r="1.0"/><circle cx="442.2" cy="320.5" r="1.0"/><circle cx="439.9" cy="326.7" r="1.0"/><circle cx="441.4" cy="330.3" r="1.0"/><circle cx="443.8" cy="330.3" r="1.0"/><circle cx="440.6" cy="343.3" r="1.0"/><circle cx="443.0" cy="344.1" r="1.0"/><circle cx="441.4" cy="398.2" r="1.0"/><circle cx="442.2" cy="410.0" r="1.0"/><circle cx="441.1" cy="104.8" r="1.0"/><circle cx="443.4" cy="108.3" r="1.0"/><circle cx="441.6" cy="114.0" r="1.0"/><circle cx="442.7" cy="116.6" r="1.0"/><circle cx="439.4" cy="119.5" r="1.0"/><circle cx="431.5" cy="126.5" r="1.0"/><circle cx="432.5" cy="128.8" r="1.0"/><circle cx="432.8" cy="130.8" r="1.0"/><circle cx="435.4" cy="127.5" r="1.0"/><circle cx="437.4" cy="124.9" r="1.0"/><circle cx="437.7" cy="127.8" r="1.0"/><circle cx="439.7" cy="129.8" r="1.0"/><circle cx="442.3" cy="125.5" r="1.0"/><circle cx="442.3" cy="127.2" r="1.0"/><circle cx="446.3" cy="123.9" r="1.0"/><circle cx="445.3" cy="128.1" r="1.0"/><circle cx="447.9" cy="127.2" r="1.0"/><circle cx="446.9" cy="130.1" r="1.0"/><circle cx="450.9" cy="128.1" r="1.0"/><circle cx="452.9" cy="127.2" r="1.0"/></g>
<g stroke="#000" stroke-width="1.4" fill="none"><line x1="263.7" y1="74.6" x2="263.7" y2="81.8"/><line x1="250.5" y1="77.6" x2="276.9" y2="77.6"/><line x1="250.5" y1="78.9" x2="276.9" y2="78.9"/></g><circle cx="263.7" cy="78.2" r="3.1" fill="#000"/>
<g stroke="#000" stroke-width="1.4" fill="none"><line x1="442.0" y1="196.8" x2="442.0" y2="205.2"/><line x1="428.8" y1="198.9" x2="455.2" y2="198.9"/><line x1="428.8" y1="204.05" x2="455.2" y2="204.05"/></g><circle cx="442.0" cy="201.2" r="3.5" fill="#000"/>
<rect x="157.5" y="37.8" width="391.1" height="389.7" fill="none" stroke="#000" stroke-width="1.6"/>
<text x="155.1" y="47.1" text-anchor="end" font-size="14.4" fill="#4d4d4d">1.00</text>
<text x="155.1" y="137.7" text-anchor="end" font-size="14.4" fill="#4d4d4d">0.75</text>
<text x="155.1" y="228.3" text-anchor="end" font-size="14.4" fill="#4d4d4d">0.50</text>
<text x="155.1" y="318.9" text-anchor="end" font-size="14.4" fill="#4d4d4d">0.25</text>
<text x="155.1" y="409.5" text-anchor="end" font-size="14.4" fill="#4d4d4d">0.00</text>
<text x="263.8" y="440.0" text-anchor="middle" font-size="14.4" fill="#4d4d4d">AP</text>
<text x="442.0" y="440.0" text-anchor="middle" font-size="14.4" fill="#4d4d4d">non-AP</text>
<text x="353.0" y="461.3" text-anchor="middle" font-size="16.1" fill="#000">Lepidoptera class</text>
<text transform="translate(121.5,231.3) rotate(-90)" text-anchor="middle" font-size="16.05" fill="#000">split-half reliability</text>
<g font-size="21.5" fill="#000"><text transform="translate(110.6,14.6) scale(0.82,1)">(</text><text x="115.3" y="14.6" font-weight="bold">A</text><text transform="translate(130.8,14.6) scale(0.82,1)">)</text></g>
<g stroke="#2f4f4f" fill="none" stroke-width="1.15"><polyline points="73.02,539.00 82.03,547.90 91.05,555.50 100.06,561.90 109.08,568.30 118.09,575.00 127.11,581.40 136.12,587.60 145.13,594.00 154.15,600.20 163.17,606.30 172.18,612.60 181.19,618.90 190.21,625.60 199.23,631.90 208.24,638.50 217.25,645.00 226.27,651.60 235.29,658.00 244.30,664.20 253.31,670.30 262.33,676.60 271.35,682.85 280.36,689.20 289.38,696.10 298.39,702.70 307.41,709.70 316.42,716.30"/><path d="M69.06 537.65H76.97M69.06 540.35H76.97M73.02 537.65V540.35"/><path d="M78.08 546.55H85.98M78.08 549.25H85.98M82.03 546.55V549.25"/><path d="M87.09 554.15H95.00M87.09 556.85H95.00M91.05 554.15V556.85"/><path d="M96.11 560.55H104.01M96.11 563.25H104.01M100.06 560.55V563.25"/><path d="M105.12 566.95H113.03M105.12 569.65H113.03M109.08 566.95V569.65"/><path d="M114.14 573.65H122.04M114.14 576.35H122.04M118.09 573.65V576.35"/><path d="M123.16 580.05H131.06M123.16 582.75H131.06M127.11 580.05V582.75"/><path d="M132.17 586.25H140.07M132.17 588.95H140.07M136.12 586.25V588.95"/><path d="M141.19 592.65H149.08M141.19 595.35H149.08M145.13 592.65V595.35"/><path d="M150.20 598.85H158.10M150.20 601.55H158.10M154.15 598.85V601.55"/><path d="M159.22 604.95H167.12M159.22 607.65H167.12M163.17 604.95V607.65"/><path d="M168.23 611.25H176.13M168.23 613.95H176.13M172.18 611.25V613.95"/><path d="M177.25 617.55H185.14M177.25 620.25H185.14M181.19 617.55V620.25"/><path d="M186.26 624.25H194.16M186.26 626.95H194.16M190.21 624.25V626.95"/><path d="M195.28 630.55H203.18M195.28 633.25H203.18M199.23 630.55V633.25"/><path d="M204.29 637.15H212.19M204.29 639.85H212.19M208.24 637.15V639.85"/><path d="M213.31 643.65H221.20M213.31 646.35H221.20M217.25 643.65V646.35"/><path d="M222.32 650.25H230.22M222.32 652.95H230.22M226.27 650.25V652.95"/><path d="M231.34 656.65H239.24M231.34 659.35H239.24M235.29 656.65V659.35"/><path d="M240.35 662.85H248.25M240.35 665.55H248.25M244.30 662.85V665.55"/><path d="M249.37 668.95H257.26M249.37 671.65H257.26M253.31 668.95V671.65"/><path d="M258.38 675.25H266.28M258.38 677.95H266.28M262.33 675.25V677.95"/><path d="M267.40 681.50H275.30M267.40 684.20H275.30M271.35 681.50V684.20"/><path d="M276.41 687.85H284.31M276.41 690.55H284.31M280.36 687.85V690.55"/><path d="M285.43 694.75H293.32M285.43 697.45H293.32M289.38 694.75V697.45"/><path d="M294.44 701.35H302.34M294.44 704.05H302.34M298.39 701.35V704.05"/><path d="M303.46 708.35H311.36M303.46 711.05H311.36M307.41 708.35V711.05"/><path d="M312.47 714.95H320.37M312.47 717.65H320.37M316.42 714.95V717.65"/></g><g fill="#2f4f4f"><circle cx="73.02" cy="539.00" r="3.0"/><circle cx="82.03" cy="547.90" r="3.0"/><circle cx="91.05" cy="555.50" r="3.0"/><circle cx="100.06" cy="561.90" r="3.0"/><circle cx="109.08" cy="568.30" r="3.0"/><circle cx="118.09" cy="575.00" r="3.0"/><circle cx="127.11" cy="581.40" r="3.0"/><circle cx="136.12" cy="587.60" r="3.0"/><circle cx="145.13" cy="594.00" r="3.0"/><circle cx="154.15" cy="600.20" r="3.0"/><circle cx="163.17" cy="606.30" r="3.0"/><circle cx="172.18" cy="612.60" r="3.0"/><circle cx="181.19" cy="618.90" r="3.0"/><circle cx="190.21" cy="625.60" r="3.0"/><circle cx="199.23" cy="631.90" r="3.0"/><circle cx="208.24" cy="638.50" r="3.0"/><circle cx="217.25" cy="645.00" r="3.0"/><circle cx="226.27" cy="651.60" r="3.0"/><circle cx="235.29" cy="658.00" r="3.0"/><circle cx="244.30" cy="664.20" r="3.0"/><circle cx="253.31" cy="670.30" r="3.0"/><circle cx="262.33" cy="676.60" r="3.0"/><circle cx="271.35" cy="682.85" r="3.0"/><circle cx="280.36" cy="689.20" r="3.0"/><circle cx="289.38" cy="696.10" r="3.0"/><circle cx="298.39" cy="702.70" r="3.0"/><circle cx="307.41" cy="709.70" r="3.0"/><circle cx="316.42" cy="716.30" r="3.0"/></g>
<g stroke="#daa520" fill="none" stroke-width="1.15"><polyline points="73.02,602.80 82.03,599.30 91.05,596.70 100.06,596.40 109.08,597.80 118.09,600.30 127.11,604.20 136.12,608.10 145.13,612.50 154.15,616.40 163.17,620.30 172.18,625.80 181.19,631.90 190.21,638.90 199.23,646.30 208.24,653.30 217.25,660.10 226.27,666.00 235.29,671.50 244.30,676.70 253.31,680.80 262.33,685.00 271.35,689.80 280.36,695.60 289.38,701.80 298.39,707.70 307.41,713.50 316.42,717.80"/><path d="M69.06 601.30H76.97M69.06 604.30H76.97M73.02 601.30V604.30"/><path d="M78.08 598.00H85.98M78.08 600.60H85.98M82.03 598.00V600.60"/><path d="M87.09 595.40H95.00M87.09 598.00H95.00M91.05 595.40V598.00"/><path d="M96.11 595.10H104.01M96.11 597.70H104.01M100.06 595.10V597.70"/><path d="M105.12 596.50H113.03M105.12 599.10H113.03M109.08 596.50V599.10"/><path d="M114.14 599.00H122.04M114.14 601.60H122.04M118.09 599.00V601.60"/><path d="M123.16 602.90H131.06M123.16 605.50H131.06M127.11 602.90V605.50"/><path d="M132.17 606.80H140.07M132.17 609.40H140.07M136.12 606.80V609.40"/><path d="M141.19 611.20H149.08M141.19 613.80H149.08M145.13 611.20V613.80"/><path d="M150.20 615.10H158.10M150.20 617.70H158.10M154.15 615.10V617.70"/><path d="M159.22 619.00H167.12M159.22 621.60H167.12M163.17 619.00V621.60"/><path d="M168.23 624.50H176.13M168.23 627.10H176.13M172.18 624.50V627.10"/><path d="M177.25 630.60H185.14M177.25 633.20H185.14M181.19 630.60V633.20"/><path d="M186.26 637.60H194.16M186.26 640.20H194.16M190.21 637.60V640.20"/><path d="M195.28 645.00H203.18M195.28 647.60H203.18M199.23 645.00V647.60"/><path d="M204.29 652.00H212.19M204.29 654.60H212.19M208.24 652.00V654.60"/><path d="M213.31 658.80H221.20M213.31 661.40H221.20M217.25 658.80V661.40"/><path d="M222.32 664.70H230.22M222.32 667.30H230.22M226.27 664.70V667.30"/><path d="M231.34 670.20H239.24M231.34 672.80H239.24M235.29 670.20V672.80"/><path d="M240.35 675.40H248.25M240.35 678.00H248.25M244.30 675.40V678.00"/><path d="M249.37 679.50H257.26M249.37 682.10H257.26M253.31 679.50V682.10"/><path d="M258.38 683.70H266.28M258.38 686.30H266.28M262.33 683.70V686.30"/><path d="M267.40 688.50H275.30M267.40 691.10H275.30M271.35 688.50V691.10"/><path d="M276.41 694.30H284.31M276.41 696.90H284.31M280.36 694.30V696.90"/><path d="M285.43 700.50H293.32M285.43 703.10H293.32M289.38 700.50V703.10"/><path d="M294.44 706.40H302.34M294.44 709.00H302.34M298.39 706.40V709.00"/><path d="M303.46 712.20H311.36M303.46 714.80H311.36M307.41 712.20V714.80"/><path d="M312.47 716.50H320.37M312.47 719.10H320.37M316.42 716.50V719.10"/></g><g fill="#daa520"><circle cx="73.02" cy="602.80" r="3.0"/><circle cx="82.03" cy="599.30" r="3.0"/><circle cx="91.05" cy="596.70" r="3.0"/><circle cx="100.06" cy="596.40" r="3.0"/><circle cx="109.08" cy="597.80" r="3.0"/><circle cx="118.09" cy="600.30" r="3.0"/><circle cx="127.11" cy="604.20" r="3.0"/><circle cx="136.12" cy="608.10" r="3.0"/><circle cx="145.13" cy="612.50" r="3.0"/><circle cx="154.15" cy="616.40" r="3.0"/><circle cx="163.17" cy="620.30" r="3.0"/><circle cx="172.18" cy="625.80" r="3.0"/><circle cx="181.19" cy="631.90" r="3.0"/><circle cx="190.21" cy="638.90" r="3.0"/><circle cx="199.23" cy="646.30" r="3.0"/><circle cx="208.24" cy="653.30" r="3.0"/><circle cx="217.25" cy="660.10" r="3.0"/><circle cx="226.27" cy="666.00" r="3.0"/><circle cx="235.29" cy="671.50" r="3.0"/><circle cx="244.30" cy="676.70" r="3.0"/><circle cx="253.31" cy="680.80" r="3.0"/><circle cx="262.33" cy="685.00" r="3.0"/><circle cx="271.35" cy="689.80" r="3.0"/><circle cx="280.36" cy="695.60" r="3.0"/><circle cx="289.38" cy="701.80" r="3.0"/><circle cx="298.39" cy="707.70" r="3.0"/><circle cx="307.41" cy="713.50" r="3.0"/><circle cx="316.42" cy="717.80" r="3.0"/></g>
<g stroke="#bebebe" fill="none" stroke-width="1.15"><polyline points="73.02,720.10 82.03,717.50 91.05,718.10 100.06,720.80 109.08,719.50 118.09,717.30 127.11,718.10 136.12,717.80 145.13,717.50 154.15,717.80 163.17,720.10 172.18,718.20 181.19,718.20 190.21,719.00 199.23,718.20 208.24,718.20 217.25,718.70 226.27,717.20 235.29,719.00 244.30,718.50 253.31,717.80 262.33,719.00 271.35,718.70 280.36,718.20 289.38,718.70 298.39,718.50 307.41,718.50 316.42,718.50"/><path d="M69.06 713.20H76.97M69.06 727.00H76.97M73.02 713.20V727.00"/><path d="M78.08 712.50H85.98M78.08 722.50H85.98M82.03 712.50V722.50"/><path d="M87.09 714.10H95.00M87.09 722.10H95.00M91.05 714.10V722.10"/><path d="M96.11 717.30H104.01M96.11 724.30H104.01M100.06 717.30V724.30"/><path d="M105.12 716.30H113.03M105.12 722.70H113.03M109.08 716.30V722.70"/><path d="M114.14 714.60H122.04M114.14 720.00H122.04M118.09 714.60V720.00"/><path d="M123.16 715.20H131.06M123.16 721.00H131.06M127.11 715.20V721.00"/><path d="M132.17 715.40H140.07M132.17 720.20H140.07M136.12 715.40V720.20"/><path d="M141.19 715.30H149.08M141.19 719.70H149.08M145.13 715.30V719.70"/><path d="M150.20 715.70H158.10M150.20 719.90H158.10M154.15 715.70V719.90"/><path d="M159.22 718.10H167.12M159.22 722.10H167.12M163.17 718.10V722.10"/><path d="M168.23 716.30H176.13M168.23 720.10H176.13M172.18 716.30V720.10"/><path d="M177.25 716.40H185.14M177.25 720.00H185.14M181.19 716.40V720.00"/><path d="M186.26 717.20H194.16M186.26 720.80H194.16M190.21 717.20V720.80"/><path d="M195.28 716.50H203.18M195.28 719.90H203.18M199.23 716.50V719.90"/><path d="M204.29 716.50H212.19M204.29 719.90H212.19M208.24 716.50V719.90"/><path d="M213.31 717.10H221.20M213.31 720.30H221.20M217.25 717.10V720.30"/><path d="M222.32 715.60H230.22M222.32 718.80H230.22M226.27 715.60V718.80"/><path d="M231.34 717.40H239.24M231.34 720.60H239.24M235.29 717.40V720.60"/><path d="M240.35 717.00H248.25M240.35 720.00H248.25M244.30 717.00V720.00"/><path d="M249.37 716.30H257.26M249.37 719.30H257.26M253.31 716.30V719.30"/><path d="M258.38 717.50H266.28M258.38 720.50H266.28M262.33 717.50V720.50"/><path d="M267.40 717.20H275.30M267.40 720.20H275.30M271.35 717.20V720.20"/><path d="M276.41 716.80H284.31M276.41 719.60H284.31M280.36 716.80V719.60"/><path d="M285.43 717.30H293.32M285.43 720.10H293.32M289.38 717.30V720.10"/><path d="M294.44 717.10H302.34M294.44 719.90H302.34M298.39 717.10V719.90"/><path d="M303.46 717.10H311.36M303.46 719.90H311.36M307.41 717.10V719.90"/><path d="M312.47 717.10H320.37M312.47 719.90H320.37M316.42 717.10V719.90"/></g><g fill="#bebebe"><circle cx="73.02" cy="720.10" r="3.0"/><circle cx="82.03" cy="717.50" r="3.0"/><circle cx="91.05" cy="718.10" r="3.0"/><circle cx="100.06" cy="720.80" r="3.0"/><circle cx="109.08" cy="719.50" r="3.0"/><circle cx="118.09" cy="717.30" r="3.0"/><circle cx="127.11" cy="718.10" r="3.0"/><circle cx="136.12" cy="717.80" r="3.0"/><circle cx="145.13" cy="717.50" r="3.0"/><circle cx="154.15" cy="717.80" r="3.0"/><circle cx="163.17" cy="720.10" r="3.0"/><circle cx="172.18" cy="718.20" r="3.0"/><circle cx="181.19" cy="718.20" r="3.0"/><circle cx="190.21" cy="719.00" r="3.0"/><circle cx="199.23" cy="718.20" r="3.0"/><circle cx="208.24" cy="718.20" r="3.0"/><circle cx="217.25" cy="718.70" r="3.0"/><circle cx="226.27" cy="717.20" r="3.0"/><circle cx="235.29" cy="719.00" r="3.0"/><circle cx="244.30" cy="718.50" r="3.0"/><circle cx="253.31" cy="717.80" r="3.0"/><circle cx="262.33" cy="719.00" r="3.0"/><circle cx="271.35" cy="718.70" r="3.0"/><circle cx="280.36" cy="718.20" r="3.0"/><circle cx="289.38" cy="718.70" r="3.0"/><circle cx="298.39" cy="718.50" r="3.0"/><circle cx="307.41" cy="718.50" r="3.0"/><circle cx="316.42" cy="718.50" r="3.0"/></g>
<rect x="51.2" y="511.9" width="296.1" height="276.4" fill="none" stroke="#000" stroke-width="2.1"/>
<text x="64.00" y="804.6" text-anchor="middle" font-size="14.4" fill="#4d4d4d">0</text>
<text x="154.15" y="804.6" text-anchor="middle" font-size="14.4" fill="#4d4d4d">10</text>
<text x="244.30" y="804.6" text-anchor="middle" font-size="14.4" fill="#4d4d4d">20</text>
<text x="334.45" y="804.6" text-anchor="middle" font-size="14.4" fill="#4d4d4d">30</text>
<text x="44.6" y="570.6" text-anchor="end" font-size="14.4" fill="#4d4d4d">0.9</text>
<text x="44.6" y="630.7" text-anchor="end" font-size="14.4" fill="#4d4d4d">0.8</text>
<text x="44.6" y="690.9" text-anchor="end" font-size="14.4" fill="#4d4d4d">0.7</text>
<text x="44.6" y="751.0" text-anchor="end" font-size="14.4" fill="#4d4d4d">0.6</text>
<g stroke="#2f4f4f" fill="none" stroke-width="1.15"><polyline points="409.62,611.00 418.64,619.90 427.66,627.10 436.68,632.80 445.70,637.70 454.72,642.30 463.74,646.30 472.76,650.10 481.78,653.50 490.80,656.70 499.82,660.00 508.84,663.10 517.86,666.00 526.88,668.90 535.90,671.80 544.92,675.00 553.94,678.00 562.96,680.90 571.98,683.85 581.00,687.20 590.02,690.40 599.04,694.10 608.06,697.70 617.08,701.80 626.10,706.00 635.12,710.45 644.14,714.75 653.16,719.45 662.18,727.40"/><path d="M405.67 609.65H413.57M405.67 612.35H413.57M409.62 609.65V612.35"/><path d="M414.69 618.55H422.59M414.69 621.25H422.59M418.64 618.55V621.25"/><path d="M423.71 625.75H431.61M423.71 628.45H431.61M427.66 625.75V628.45"/><path d="M432.73 631.45H440.63M432.73 634.15H440.63M436.68 631.45V634.15"/><path d="M441.75 636.35H449.65M441.75 639.05H449.65M445.70 636.35V639.05"/><path d="M450.77 640.95H458.67M450.77 643.65H458.67M454.72 640.95V643.65"/><path d="M459.79 644.95H467.69M459.79 647.65H467.69M463.74 644.95V647.65"/><path d="M468.81 648.75H476.71M468.81 651.45H476.71M472.76 648.75V651.45"/><path d="M477.83 652.15H485.73M477.83 654.85H485.73M481.78 652.15V654.85"/><path d="M486.85 655.35H494.75M486.85 658.05H494.75M490.80 655.35V658.05"/><path d="M495.87 658.65H503.77M495.87 661.35H503.77M499.82 658.65V661.35"/><path d="M504.89 661.75H512.79M504.89 664.45H512.79M508.84 661.75V664.45"/><path d="M513.91 664.65H521.81M513.91 667.35H521.81M517.86 664.65V667.35"/><path d="M522.93 667.55H530.83M522.93 670.25H530.83M526.88 667.55V670.25"/><path d="M531.95 670.45H539.85M531.95 673.15H539.85M535.90 670.45V673.15"/><path d="M540.97 673.65H548.87M540.97 676.35H548.87M544.92 673.65V676.35"/><path d="M549.99 676.65H557.89M549.99 679.35H557.89M553.94 676.65V679.35"/><path d="M559.01 679.55H566.91M559.01 682.25H566.91M562.96 679.55V682.25"/><path d="M568.03 682.50H575.93M568.03 685.20H575.93M571.98 682.50V685.20"/><path d="M577.05 685.85H584.95M577.05 688.55H584.95M581.00 685.85V688.55"/><path d="M586.07 689.05H593.97M586.07 691.75H593.97M590.02 689.05V691.75"/><path d="M595.09 692.75H602.99M595.09 695.45H602.99M599.04 692.75V695.45"/><path d="M604.11 696.35H612.01M604.11 699.05H612.01M608.06 696.35V699.05"/><path d="M613.13 700.45H621.03M613.13 703.15H621.03M617.08 700.45V703.15"/><path d="M622.15 704.65H630.05M622.15 707.35H630.05M626.10 704.65V707.35"/><path d="M631.17 709.10H639.07M631.17 711.80H639.07M635.12 709.10V711.80"/><path d="M640.19 713.40H648.09M640.19 716.10H648.09M644.14 713.40V716.10"/><path d="M649.21 718.10H657.11M649.21 720.80H657.11M653.16 718.10V720.80"/><path d="M658.23 726.05H666.13M658.23 728.75H666.13M662.18 726.05V728.75"/></g><g fill="#2f4f4f"><circle cx="409.62" cy="611.00" r="3.0"/><circle cx="418.64" cy="619.90" r="3.0"/><circle cx="427.66" cy="627.10" r="3.0"/><circle cx="436.68" cy="632.80" r="3.0"/><circle cx="445.70" cy="637.70" r="3.0"/><circle cx="454.72" cy="642.30" r="3.0"/><circle cx="463.74" cy="646.30" r="3.0"/><circle cx="472.76" cy="650.10" r="3.0"/><circle cx="481.78" cy="653.50" r="3.0"/><circle cx="490.80" cy="656.70" r="3.0"/><circle cx="499.82" cy="660.00" r="3.0"/><circle cx="508.84" cy="663.10" r="3.0"/><circle cx="517.86" cy="666.00" r="3.0"/><circle cx="526.88" cy="668.90" r="3.0"/><circle cx="535.90" cy="671.80" r="3.0"/><circle cx="544.92" cy="675.00" r="3.0"/><circle cx="553.94" cy="678.00" r="3.0"/><circle cx="562.96" cy="680.90" r="3.0"/><circle cx="571.98" cy="683.85" r="3.0"/><circle cx="581.00" cy="687.20" r="3.0"/><circle cx="590.02" cy="690.40" r="3.0"/><circle cx="599.04" cy="694.10" r="3.0"/><circle cx="608.06" cy="697.70" r="3.0"/><circle cx="617.08" cy="701.80" r="3.0"/><circle cx="626.10" cy="706.00" r="3.0"/><circle cx="635.12" cy="710.45" r="3.0"/><circle cx="644.14" cy="714.75" r="3.0"/><circle cx="653.16" cy="719.45" r="3.0"/><circle cx="662.18" cy="727.40" r="3.0"/></g>
<g stroke="#daa520" fill="none" stroke-width="1.15"><polyline points="409.62,722.20 418.64,715.60 427.66,712.10 436.68,710.10 445.70,708.30 454.72,706.90 463.74,705.70 472.76,704.85 481.78,704.00 490.80,703.10 499.82,702.40 508.84,701.70 517.86,701.40 526.88,700.80 535.90,700.50 544.92,700.00 553.94,699.60 562.96,699.25 571.98,699.25 581.00,699.90 590.02,701.10 599.04,702.80 608.06,705.00 617.08,708.20 626.10,711.55 635.12,714.90 644.14,717.85 653.16,721.25 662.18,725.60"/><path d="M405.67 719.60H413.57M405.67 724.80H413.57M409.62 719.60V724.80"/><path d="M414.69 714.30H422.59M414.69 716.90H422.59M418.64 714.30V716.90"/><path d="M423.71 710.80H431.61M423.71 713.40H431.61M427.66 710.80V713.40"/><path d="M432.73 708.80H440.63M432.73 711.40H440.63M436.68 708.80V711.40"/><path d="M441.75 707.00H449.65M441.75 709.60H449.65M445.70 707.00V709.60"/><path d="M450.77 705.60H458.67M450.77 708.20H458.67M454.72 705.60V708.20"/><path d="M459.79 704.40H467.69M459.79 707.00H467.69M463.74 704.40V707.00"/><path d="M468.81 703.55H476.71M468.81 706.15H476.71M472.76 703.55V706.15"/><path d="M477.83 702.70H485.73M477.83 705.30H485.73M481.78 702.70V705.30"/><path d="M486.85 701.80H494.75M486.85 704.40H494.75M490.80 701.80V704.40"/><path d="M495.87 701.10H503.77M495.87 703.70H503.77M499.82 701.10V703.70"/><path d="M504.89 700.40H512.79M504.89 703.00H512.79M508.84 700.40V703.00"/><path d="M513.91 700.10H521.81M513.91 702.70H521.81M517.86 700.10V702.70"/><path d="M522.93 699.50H530.83M522.93 702.10H530.83M526.88 699.50V702.10"/><path d="M531.95 699.20H539.85M531.95 701.80H539.85M535.90 699.20V701.80"/><path d="M540.97 698.70H548.87M540.97 701.30H548.87M544.92 698.70V701.30"/><path d="M549.99 698.30H557.89M549.99 700.90H557.89M553.94 698.30V700.90"/><path d="M559.01 697.95H566.91M559.01 700.55H566.91M562.96 697.95V700.55"/><path d="M568.03 697.95H575.93M568.03 700.55H575.93M571.98 697.95V700.55"/><path d="M577.05 698.60H584.95M577.05 701.20H584.95M581.00 698.60V701.20"/><path d="M586.07 699.80H593.97M586.07 702.40H593.97M590.02 699.80V702.40"/><path d="M595.09 701.50H602.99M595.09 704.10H602.99M599.04 701.50V704.10"/><path d="M604.11 703.70H612.01M604.11 706.30H612.01M608.06 703.70V706.30"/><path d="M613.13 706.90H621.03M613.13 709.50H621.03M617.08 706.90V709.50"/><path d="M622.15 710.25H630.05M622.15 712.85H630.05M626.10 710.25V712.85"/><path d="M631.17 713.60H639.07M631.17 716.20H639.07M635.12 713.60V716.20"/><path d="M640.19 716.55H648.09M640.19 719.15H648.09M644.14 716.55V719.15"/><path d="M649.21 719.95H657.11M649.21 722.55H657.11M653.16 719.95V722.55"/><path d="M658.23 724.30H666.13M658.23 726.90H666.13M662.18 724.30V726.90"/></g><g fill="#daa520"><circle cx="409.62" cy="722.20" r="3.0"/><circle cx="418.64" cy="715.60" r="3.0"/><circle cx="427.66" cy="712.10" r="3.0"/><circle cx="436.68" cy="710.10" r="3.0"/><circle cx="445.70" cy="708.30" r="3.0"/><circle cx="454.72" cy="706.90" r="3.0"/><circle cx="463.74" cy="705.70" r="3.0"/><circle cx="472.76" cy="704.85" r="3.0"/><circle cx="481.78" cy="704.00" r="3.0"/><circle cx="490.80" cy="703.10" r="3.0"/><circle cx="499.82" cy="702.40" r="3.0"/><circle cx="508.84" cy="701.70" r="3.0"/><circle cx="517.86" cy="701.40" r="3.0"/><circle cx="526.88" cy="700.80" r="3.0"/><circle cx="535.90" cy="700.50" r="3.0"/><circle cx="544.92" cy="700.00" r="3.0"/><circle cx="553.94" cy="699.60" r="3.0"/><circle cx="562.96" cy="699.25" r="3.0"/><circle cx="571.98" cy="699.25" r="3.0"/><circle cx="581.00" cy="699.90" r="3.0"/><circle cx="590.02" cy="701.10" r="3.0"/><circle cx="599.04" cy="702.80" r="3.0"/><circle cx="608.06" cy="705.00" r="3.0"/><circle cx="617.08" cy="708.20" r="3.0"/><circle cx="626.10" cy="711.55" r="3.0"/><circle cx="635.12" cy="714.90" r="3.0"/><circle cx="644.14" cy="717.85" r="3.0"/><circle cx="653.16" cy="721.25" r="3.0"/><circle cx="662.18" cy="725.60" r="3.0"/></g>
<g stroke="#bebebe" fill="none" stroke-width="1.15"><polyline points="409.62,729.00 418.64,723.80 427.66,725.90 436.68,724.10 445.70,725.90 454.72,726.50 463.74,725.30 472.76,727.30 481.78,724.70 490.80,726.40 499.82,725.90 508.84,725.90 517.86,726.40 526.88,725.90 535.90,725.90 544.92,725.90 553.94,725.90 562.96,725.90 571.98,725.90 581.00,725.90 590.02,725.90 599.04,725.90 608.06,725.90 617.08,725.90 626.10,725.90 635.12,725.90 644.14,725.90 653.16,725.90 662.18,725.90"/><path d="M405.67 723.90H413.57M405.67 734.10H413.57M409.62 723.90V734.10"/><path d="M414.69 720.90H422.59M414.69 726.70H422.59M418.64 720.90V726.70"/><path d="M423.71 723.50H431.61M423.71 728.30H431.61M427.66 723.50V728.30"/><path d="M432.73 721.90H440.63M432.73 726.30H440.63M436.68 721.90V726.30"/><path d="M441.75 723.90H449.65M441.75 727.90H449.65M445.70 723.90V727.90"/><path d="M450.77 724.60H458.67M450.77 728.40H458.67M454.72 724.60V728.40"/><path d="M459.79 723.50H467.69M459.79 727.10H467.69M463.74 723.50V727.10"/><path d="M468.81 725.60H476.71M468.81 729.00H476.71M472.76 725.60V729.00"/><path d="M477.83 723.00H485.73M477.83 726.40H485.73M481.78 723.00V726.40"/><path d="M486.85 724.80H494.75M486.85 728.00H494.75M490.80 724.80V728.00"/><path d="M495.87 724.30H503.77M495.87 727.50H503.77M499.82 724.30V727.50"/><path d="M504.89 724.40H512.79M504.89 727.40H512.79M508.84 724.40V727.40"/><path d="M513.91 724.90H521.81M513.91 727.90H521.81M517.86 724.90V727.90"/><path d="M522.93 724.40H530.83M522.93 727.40H530.83M526.88 724.40V727.40"/><path d="M531.95 724.40H539.85M531.95 727.40H539.85M535.90 724.40V727.40"/><path d="M540.97 724.50H548.87M540.97 727.30H548.87M544.92 724.50V727.30"/><path d="M549.99 724.50H557.89M549.99 727.30H557.89M553.94 724.50V727.30"/><path d="M559.01 724.50H566.91M559.01 727.30H566.91M562.96 724.50V727.30"/><path d="M568.03 724.50H575.93M568.03 727.30H575.93M571.98 724.50V727.30"/><path d="M577.05 724.50H584.95M577.05 727.30H584.95M581.00 724.50V727.30"/><path d="M586.07 724.50H593.97M586.07 727.30H593.97M590.02 724.50V727.30"/><path d="M595.09 724.50H602.99M595.09 727.30H602.99M599.04 724.50V727.30"/><path d="M604.11 724.50H612.01M604.11 727.30H612.01M608.06 724.50V727.30"/><path d="M613.13 724.50H621.03M613.13 727.30H621.03M617.08 724.50V727.30"/><path d="M622.15 724.50H630.05M622.15 727.30H630.05M626.10 724.50V727.30"/><path d="M631.17 724.50H639.07M631.17 727.30H639.07M635.12 724.50V727.30"/><path d="M640.19 724.50H648.09M640.19 727.30H648.09M644.14 724.50V727.30"/><path d="M649.21 724.50H657.11M649.21 727.30H657.11M653.16 724.50V727.30"/><path d="M658.23 724.50H666.13M658.23 727.30H666.13M662.18 724.50V727.30"/></g><g fill="#bebebe"><circle cx="409.62" cy="729.00" r="3.0"/><circle cx="418.64" cy="723.80" r="3.0"/><circle cx="427.66" cy="725.90" r="3.0"/><circle cx="436.68" cy="724.10" r="3.0"/><circle cx="445.70" cy="725.90" r="3.0"/><circle cx="454.72" cy="726.50" r="3.0"/><circle cx="463.74" cy="725.30" r="3.0"/><circle cx="472.76" cy="727.30" r="3.0"/><circle cx="481.78" cy="724.70" r="3.0"/><circle cx="490.80" cy="726.40" r="3.0"/><circle cx="499.82" cy="725.90" r="3.0"/><circle cx="508.84" cy="725.90" r="3.0"/><circle cx="517.86" cy="726.40" r="3.0"/><circle cx="526.88" cy="725.90" r="3.0"/><circle cx="535.90" cy="725.90" r="3.0"/><circle cx="544.92" cy="725.90" r="3.0"/><circle cx="553.94" cy="725.90" r="3.0"/><circle cx="562.96" cy="725.90" r="3.0"/><circle cx="571.98" cy="725.90" r="3.0"/><circle cx="581.00" cy="725.90" r="3.0"/><circle cx="590.02" cy="725.90" r="3.0"/><circle cx="599.04" cy="725.90" r="3.0"/><circle cx="608.06" cy="725.90" r="3.0"/><circle cx="617.08" cy="725.90" r="3.0"/><circle cx="626.10" cy="725.90" r="3.0"/><circle cx="635.12" cy="725.90" r="3.0"/><circle cx="644.14" cy="725.90" r="3.0"/><circle cx="653.16" cy="725.90" r="3.0"/><circle cx="662.18" cy="725.90" r="3.0"/></g>
<rect x="387.8" y="511.9" width="296.5" height="276.4" fill="none" stroke="#000" stroke-width="2.1"/>
<text x="400.60" y="804.6" text-anchor="middle" font-size="14.4" fill="#4d4d4d">0</text>
<text x="490.80" y="804.6" text-anchor="middle" font-size="14.4" fill="#4d4d4d">10</text>
<text x="581.00" y="804.6" text-anchor="middle" font-size="14.4" fill="#4d4d4d">20</text>
<text x="671.20" y="804.6" text-anchor="middle" font-size="14.4" fill="#4d4d4d">30</text>
<text x="381.1" y="570.6" text-anchor="end" font-size="14.4" fill="#4d4d4d">0.9</text>
<text x="381.1" y="630.7" text-anchor="end" font-size="14.4" fill="#4d4d4d">0.8</text>
<text x="381.1" y="690.9" text-anchor="end" font-size="14.4" fill="#4d4d4d">0.7</text>
<text x="381.1" y="751.0" text-anchor="end" font-size="14.4" fill="#4d4d4d">0.6</text>
<text x="198.6" y="499.7" text-anchor="middle" font-size="19.3" fill="#000">AP</text>
<text x="535.6" y="499.7" text-anchor="middle" font-size="19.3" fill="#000">non-AP</text>
<text transform="translate(13.7,658.0) rotate(-90)" text-anchor="middle" font-size="18.9" fill="#000">cumulative hit rate</text>
<text x="355.0" y="832.8" text-anchor="middle" font-size="18.95" fill="#000">image ranking in group j (rank number)</text>
<g font-size="21.5" fill="#000"><text transform="translate(4.7,483.7) scale(0.82,1)">(</text><text x="9.5" y="483.7" font-weight="bold">B</text><text transform="translate(25.1,483.7) scale(0.82,1)">)</text></g>
<line x1="199.3" y1="882.4" x2="217.1" y2="882.4" stroke="#2f4f4f" stroke-width="1.6"/><circle cx="208.20" cy="882.4" r="2.75" fill="#2f4f4f"/>
<line x1="280.9" y1="882.4" x2="299.1" y2="882.4" stroke="#daa520" stroke-width="1.6"/><circle cx="290.00" cy="882.4" r="2.75" fill="#daa520"/>
<line x1="367.1" y1="882.4" x2="384.8" y2="882.4" stroke="#bebebe" stroke-width="1.6"/><circle cx="375.95" cy="882.4" r="2.75" fill="#bebebe"/>
<text x="226.0" y="887.2" font-size="15.0" fill="#000">group j</text>
<text x="307.8" y="887.2" font-size="15.0" fill="#000">group k</text>
<text x="393.8" y="887.2" font-size="15.0" fill="#000">shuffled group</text></svg>
</body></html>
